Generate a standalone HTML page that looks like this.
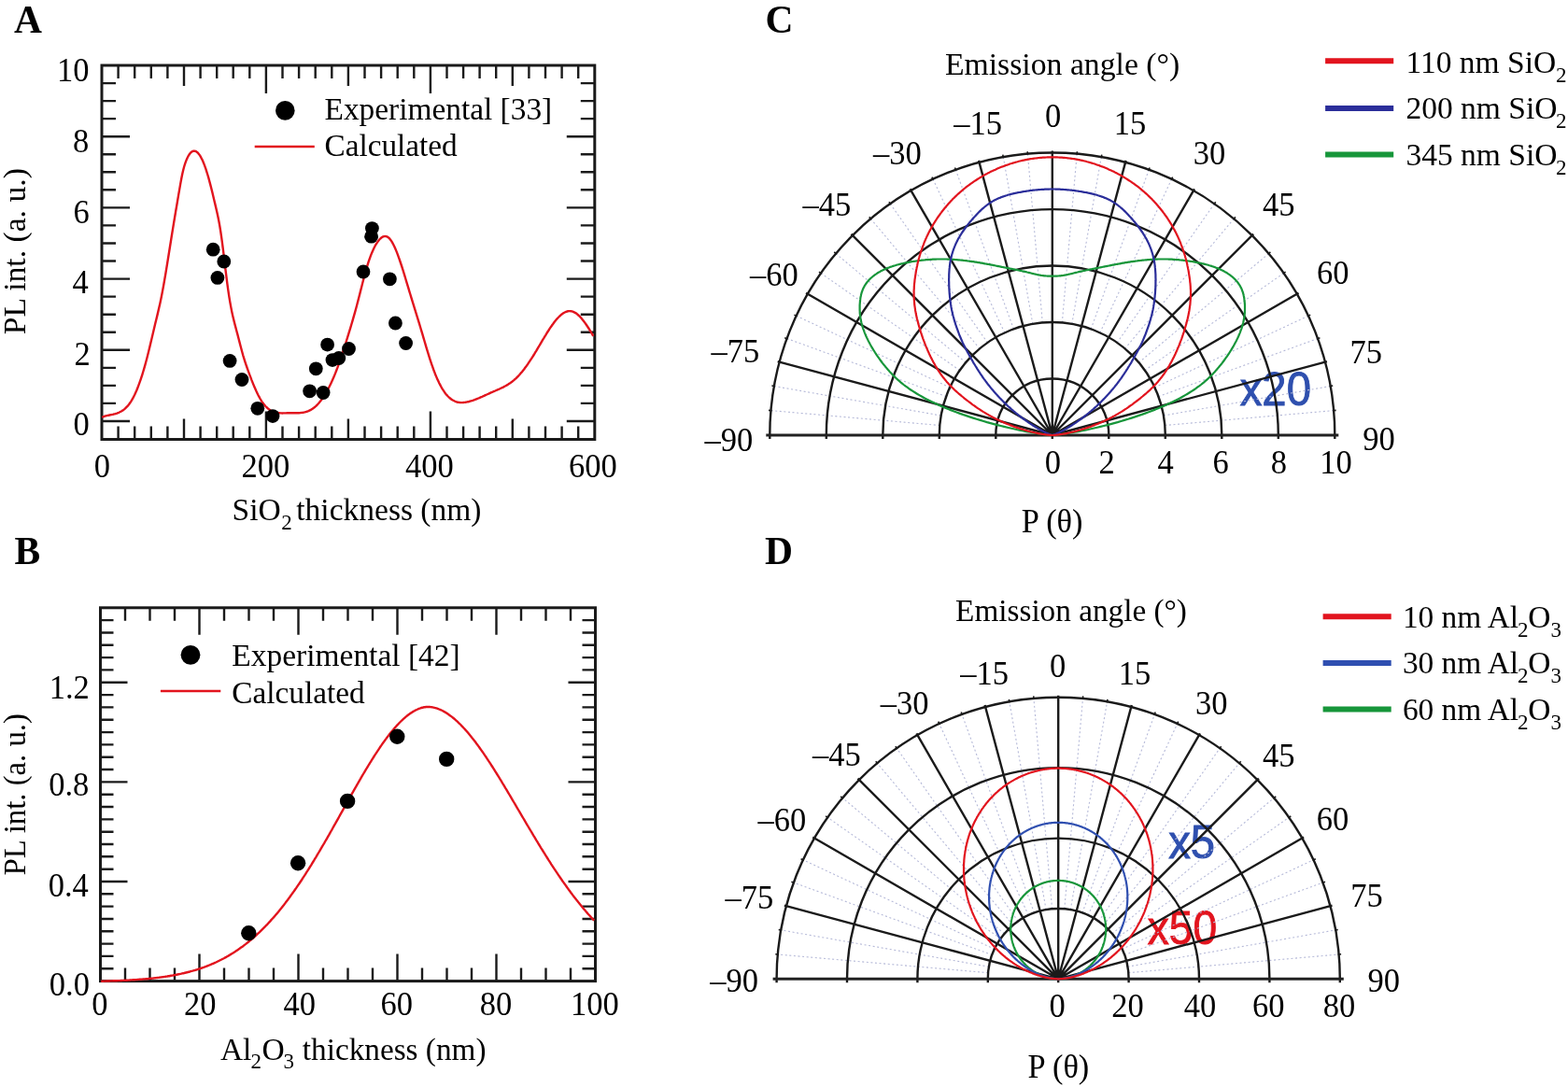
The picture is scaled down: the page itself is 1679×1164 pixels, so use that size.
<!DOCTYPE html>
<html><head><meta charset="utf-8"><title>Figure</title>
<style>html,body{margin:0;padding:0;background:#fff;}svg{display:block;}</style>
</head><body>
<svg width="1679" height="1164" viewBox="0 0 1679 1164"><rect x="109.0" y="70.0" width="527.8" height="400.5" fill="none" stroke="#1a1a1a" stroke-width="3.0"/>
<path d="M126.6,70.0v14.0M126.6,470.5v-14.0M144.2,70.0v14.0M144.2,470.5v-14.0M161.8,70.0v14.0M161.8,470.5v-14.0M179.4,70.0v14.0M179.4,470.5v-14.0M197.0,70.0v22.0M197.0,470.5v-22.0M214.6,70.0v14.0M214.6,470.5v-14.0M232.2,70.0v14.0M232.2,470.5v-14.0M249.7,70.0v14.0M249.7,470.5v-14.0M267.3,70.0v14.0M267.3,470.5v-14.0M284.9,70.0v30.0M284.9,470.5v-30.0M302.5,70.0v14.0M302.5,470.5v-14.0M320.1,70.0v14.0M320.1,470.5v-14.0M337.7,70.0v14.0M337.7,470.5v-14.0M355.3,70.0v14.0M355.3,470.5v-14.0M372.9,70.0v22.0M372.9,470.5v-22.0M390.5,70.0v14.0M390.5,470.5v-14.0M408.1,70.0v14.0M408.1,470.5v-14.0M425.7,70.0v14.0M425.7,470.5v-14.0M443.3,70.0v14.0M443.3,470.5v-14.0M460.9,70.0v30.0M460.9,470.5v-30.0M478.5,70.0v14.0M478.5,470.5v-14.0M496.1,70.0v14.0M496.1,470.5v-14.0M513.6,70.0v14.0M513.6,470.5v-14.0M531.2,70.0v14.0M531.2,470.5v-14.0M548.8,70.0v22.0M548.8,470.5v-22.0M566.4,70.0v14.0M566.4,470.5v-14.0M584.0,70.0v14.0M584.0,470.5v-14.0M601.6,70.0v14.0M601.6,470.5v-14.0M619.2,70.0v14.0M619.2,470.5v-14.0M109.0,451.0h30.0M636.8,451.0h-30.0M109.0,431.9h15.0M636.8,431.9h-15.0M109.0,412.9h15.0M636.8,412.9h-15.0M109.0,393.9h15.0M636.8,393.9h-15.0M109.0,374.8h30.0M636.8,374.8h-30.0M109.0,355.8h15.0M636.8,355.8h-15.0M109.0,336.7h15.0M636.8,336.7h-15.0M109.0,317.6h15.0M636.8,317.6h-15.0M109.0,298.6h30.0M636.8,298.6h-30.0M109.0,279.5h15.0M636.8,279.5h-15.0M109.0,260.5h15.0M636.8,260.5h-15.0M109.0,241.4h15.0M636.8,241.4h-15.0M109.0,222.4h30.0M636.8,222.4h-30.0M109.0,203.3h15.0M636.8,203.3h-15.0M109.0,184.3h15.0M636.8,184.3h-15.0M109.0,165.2h15.0M636.8,165.2h-15.0M109.0,146.2h30.0M636.8,146.2h-30.0M109.0,127.1h15.0M636.8,127.1h-15.0M109.0,108.1h15.0M636.8,108.1h-15.0M109.0,89.1h15.0M636.8,89.1h-15.0" stroke="#1a1a1a" stroke-width="2.4" fill="none"/>
<path d="M109.3,446.8 L110.3,446.4 L111.3,446.0 L112.3,445.7 L113.3,445.4 L114.3,445.1 L115.3,444.9 L116.3,444.7 L117.3,444.5 L118.3,444.3 L119.3,444.1 L120.3,443.9 L121.3,443.7 L122.3,443.4 L123.3,443.2 L124.3,442.9 L125.3,442.6 L126.3,442.2 L127.3,441.8 L128.3,441.3 L129.3,440.8 L130.3,440.3 L131.3,439.6 L132.3,438.9 L133.3,438.1 L134.3,437.2 L135.3,436.2 L136.3,435.2 L137.3,434.0 L138.3,432.7 L139.3,431.3 L140.3,429.8 L141.3,428.2 L142.3,426.4 L143.3,424.5 L144.3,422.5 L145.3,420.3 L146.3,418.0 L147.3,415.5 L148.3,412.9 L149.3,410.2 L150.3,407.4 L151.3,404.4 L152.3,401.3 L153.3,398.0 L154.3,394.6 L155.3,391.1 L156.3,387.5 L157.3,383.7 L158.3,379.8 L159.3,375.8 L160.3,371.6 L161.3,367.4 L162.3,363.2 L163.3,358.9 L164.3,354.7 L165.3,350.5 L166.3,346.3 L167.3,342.2 L168.3,338.1 L169.3,333.9 L170.3,329.6 L171.3,325.2 L172.3,320.4 L173.3,315.5 L174.3,310.2 L175.3,304.7 L176.3,299.0 L177.3,293.2 L178.3,287.1 L179.3,281.0 L180.3,274.8 L181.3,268.5 L182.3,262.2 L183.3,256.0 L184.3,249.7 L185.3,243.6 L186.3,237.5 L187.3,231.5 L188.3,225.5 L189.3,219.7 L190.3,213.8 L191.3,207.9 L192.3,202.1 L193.3,196.4 L194.3,191.0 L195.3,186.1 L196.3,181.8 L197.3,178.0 L198.3,174.8 L199.3,172.1 L200.3,169.7 L201.3,167.7 L202.3,166.0 L203.3,164.5 L204.3,163.4 L205.3,162.5 L206.3,162.0 L207.3,161.7 L208.3,161.7 L209.3,161.9 L210.3,162.4 L211.3,163.2 L212.3,164.2 L213.3,165.4 L214.3,166.9 L215.3,168.7 L216.3,170.6 L217.3,172.8 L218.3,175.2 L219.3,177.9 L220.3,180.7 L221.3,183.8 L222.3,187.0 L223.3,190.4 L224.3,194.1 L225.3,197.9 L226.3,201.8 L227.3,205.8 L228.3,210.0 L229.3,214.2 L230.3,218.4 L231.3,222.6 L232.3,226.9 L233.3,231.5 L234.3,236.5 L235.3,242.0 L236.3,248.2 L237.3,255.1 L238.3,262.7 L239.3,270.7 L240.3,278.9 L241.3,287.3 L242.3,295.4 L243.3,303.3 L244.3,310.7 L245.3,317.4 L246.3,323.4 L247.3,328.9 L248.3,333.9 L249.3,338.4 L250.3,342.6 L251.3,346.6 L252.3,350.4 L253.3,354.2 L254.3,357.9 L255.3,361.7 L256.3,365.6 L257.3,369.5 L258.3,373.3 L259.3,377.0 L260.3,380.6 L261.3,383.9 L262.3,387.1 L263.3,390.1 L264.3,393.0 L265.3,395.8 L266.3,398.6 L267.3,401.3 L268.3,403.9 L269.3,406.6 L270.3,409.1 L271.3,411.6 L272.3,414.0 L273.3,416.3 L274.3,418.6 L275.3,420.7 L276.3,422.8 L277.3,424.7 L278.3,426.5 L279.3,428.2 L280.3,429.8 L281.3,431.3 L282.3,432.6 L283.3,433.8 L284.3,435.0 L285.3,436.0 L286.3,436.9 L287.3,437.8 L288.3,438.5 L289.3,439.2 L290.3,439.8 L291.3,440.3 L292.3,440.8 L293.3,441.1 L294.3,441.5 L295.3,441.7 L296.3,442.0 L297.3,442.1 L298.3,442.3 L299.3,442.3 L300.3,442.4 L301.3,442.4 L302.3,442.5 L303.3,442.4 L304.3,442.4 L305.3,442.4 L306.3,442.4 L307.3,442.3 L308.3,442.3 L309.3,442.3 L310.3,442.2 L311.3,442.2 L312.3,442.3 L313.3,442.3 L314.3,442.3 L315.3,442.3 L316.3,442.3 L317.3,442.3 L318.3,442.3 L319.3,442.2 L320.3,442.2 L321.3,442.1 L322.3,442.0 L323.3,441.9 L324.3,441.8 L325.3,441.6 L326.3,441.4 L327.3,441.1 L328.3,440.8 L329.3,440.5 L330.3,440.1 L331.3,439.6 L332.3,439.1 L333.3,438.6 L334.3,437.9 L335.3,437.2 L336.3,436.5 L337.3,435.7 L338.3,434.8 L339.3,433.8 L340.3,432.8 L341.3,431.7 L342.3,430.5 L343.3,429.3 L344.3,428.0 L345.3,426.6 L346.3,425.1 L347.3,423.6 L348.3,422.0 L349.3,420.3 L350.3,418.5 L351.3,416.7 L352.3,414.8 L353.3,412.8 L354.3,410.7 L355.3,408.5 L356.3,406.3 L357.3,404.0 L358.3,401.6 L359.3,399.1 L360.3,396.5 L361.3,393.9 L362.3,391.1 L363.3,388.3 L364.3,385.5 L365.3,382.5 L366.3,379.5 L367.3,376.5 L368.3,373.4 L369.3,370.2 L370.3,367.0 L371.3,363.8 L372.3,360.6 L373.3,357.3 L374.3,354.1 L375.3,350.8 L376.3,347.5 L377.3,344.1 L378.3,340.7 L379.3,337.2 L380.3,333.7 L381.3,330.0 L382.3,326.3 L383.3,322.4 L384.3,318.5 L385.3,314.6 L386.3,310.6 L387.3,306.7 L388.3,302.8 L389.3,298.9 L390.3,295.2 L391.3,291.5 L392.3,288.0 L393.3,284.6 L394.3,281.4 L395.3,278.4 L396.3,275.6 L397.3,272.9 L398.3,270.5 L399.3,268.2 L400.3,266.0 L401.3,264.0 L402.3,262.2 L403.3,260.6 L404.3,259.1 L405.3,257.7 L406.3,256.5 L407.3,255.5 L408.3,254.6 L409.3,253.9 L410.3,253.4 L411.3,253.1 L412.3,253.0 L413.3,253.1 L414.3,253.4 L415.3,253.9 L416.3,254.7 L417.3,255.7 L418.3,257.0 L419.3,258.4 L420.3,260.1 L421.3,262.0 L422.3,264.0 L423.3,266.2 L424.3,268.6 L425.3,271.1 L426.3,273.8 L427.3,276.6 L428.3,279.5 L429.3,282.5 L430.3,285.5 L431.3,288.7 L432.3,291.9 L433.3,295.2 L434.3,298.5 L435.3,301.8 L436.3,305.1 L437.3,308.4 L438.3,311.8 L439.3,315.0 L440.3,318.3 L441.3,321.6 L442.3,324.9 L443.3,328.1 L444.3,331.4 L445.3,334.6 L446.3,337.9 L447.3,341.1 L448.3,344.4 L449.3,347.7 L450.3,351.0 L451.3,354.4 L452.3,357.7 L453.3,361.1 L454.3,364.5 L455.3,367.9 L456.3,371.3 L457.3,374.6 L458.3,377.9 L459.3,381.1 L460.3,384.3 L461.3,387.4 L462.3,390.3 L463.3,393.2 L464.3,396.0 L465.3,398.6 L466.3,401.2 L467.3,403.6 L468.3,405.9 L469.3,408.1 L470.3,410.2 L471.3,412.1 L472.3,414.0 L473.3,415.8 L474.3,417.4 L475.3,418.9 L476.3,420.4 L477.3,421.7 L478.3,422.9 L479.3,424.0 L480.3,425.0 L481.3,426.0 L482.3,426.8 L483.3,427.6 L484.3,428.2 L485.3,428.8 L486.3,429.3 L487.3,429.8 L488.3,430.2 L489.3,430.5 L490.3,430.7 L491.3,430.9 L492.3,431.0 L493.3,431.1 L494.3,431.1 L495.3,431.1 L496.3,431.0 L497.3,430.9 L498.3,430.8 L499.3,430.6 L500.3,430.4 L501.3,430.2 L502.3,430.0 L503.3,429.7 L504.3,429.4 L505.3,429.1 L506.3,428.8 L507.3,428.4 L508.3,428.1 L509.3,427.7 L510.3,427.3 L511.3,426.9 L512.3,426.5 L513.3,426.1 L514.3,425.6 L515.3,425.2 L516.3,424.8 L517.3,424.3 L518.3,423.9 L519.3,423.4 L520.3,422.9 L521.3,422.5 L522.3,422.0 L523.3,421.6 L524.3,421.1 L525.3,420.6 L526.3,420.2 L527.3,419.8 L528.3,419.3 L529.3,418.9 L530.3,418.5 L531.3,418.0 L532.3,417.6 L533.3,417.2 L534.3,416.7 L535.3,416.3 L536.3,415.8 L537.3,415.3 L538.3,414.9 L539.3,414.4 L540.3,413.8 L541.3,413.3 L542.3,412.7 L543.3,412.1 L544.3,411.5 L545.3,410.8 L546.3,410.2 L547.3,409.4 L548.3,408.7 L549.3,407.9 L550.3,407.1 L551.3,406.2 L552.3,405.3 L553.3,404.3 L554.3,403.3 L555.3,402.3 L556.3,401.2 L557.3,400.0 L558.3,398.9 L559.3,397.7 L560.3,396.4 L561.3,395.2 L562.3,393.8 L563.3,392.5 L564.3,391.1 L565.3,389.7 L566.3,388.2 L567.3,386.7 L568.3,385.2 L569.3,383.7 L570.3,382.1 L571.3,380.5 L572.3,378.9 L573.3,377.2 L574.3,375.6 L575.3,373.9 L576.3,372.2 L577.3,370.5 L578.3,368.8 L579.3,367.1 L580.3,365.4 L581.3,363.7 L582.3,362.1 L583.3,360.4 L584.3,358.8 L585.3,357.1 L586.3,355.5 L587.3,354.0 L588.3,352.4 L589.3,350.9 L590.3,349.5 L591.3,348.0 L592.3,346.7 L593.3,345.3 L594.3,344.0 L595.3,342.8 L596.3,341.6 L597.3,340.5 L598.3,339.5 L599.3,338.5 L600.3,337.6 L601.3,336.7 L602.3,336.0 L603.3,335.3 L604.3,334.7 L605.3,334.2 L606.3,333.8 L607.3,333.5 L608.3,333.2 L609.3,333.1 L610.3,333.1 L611.3,333.2 L612.3,333.4 L613.3,333.7 L614.3,334.1 L615.3,334.6 L616.3,335.1 L617.3,335.8 L618.3,336.6 L619.3,337.5 L620.3,338.4 L621.3,339.4 L622.3,340.5 L623.3,341.7 L624.3,342.9 L625.3,344.2 L626.3,345.6 L627.3,347.0 L628.3,348.5 L629.3,350.0 L630.3,351.5 L631.3,353.1 L632.3,354.8 L633.3,356.5 L634.3,358.2 L635.3,359.9" stroke="#e2141e" stroke-width="2.4" fill="none" stroke-linejoin="round"/>
<circle cx="228.2" cy="267.2" r="7.4" fill="#000"/>
<circle cx="239.8" cy="280" r="7.4" fill="#000"/>
<circle cx="232.9" cy="297.4" r="7.4" fill="#000"/>
<circle cx="246.1" cy="386.4" r="7.4" fill="#000"/>
<circle cx="259" cy="406.5" r="7.4" fill="#000"/>
<circle cx="275.8" cy="437.3" r="7.4" fill="#000"/>
<circle cx="292" cy="445.6" r="7.4" fill="#000"/>
<circle cx="331.6" cy="418.8" r="7.4" fill="#000"/>
<circle cx="346.1" cy="420.5" r="7.4" fill="#000"/>
<circle cx="338.3" cy="394.8" r="7.4" fill="#000"/>
<circle cx="350.6" cy="369.1" r="7.4" fill="#000"/>
<circle cx="356" cy="385.6" r="7.4" fill="#000"/>
<circle cx="362.8" cy="383.5" r="7.4" fill="#000"/>
<circle cx="373.5" cy="373.5" r="7.4" fill="#000"/>
<circle cx="389" cy="291" r="7.4" fill="#000"/>
<circle cx="397.6" cy="253.2" r="7.4" fill="#000"/>
<circle cx="398.4" cy="244.6" r="7.4" fill="#000"/>
<circle cx="417.4" cy="298.8" r="7.4" fill="#000"/>
<circle cx="423.4" cy="346" r="7.4" fill="#000"/>
<circle cx="434.6" cy="367.5" r="7.4" fill="#000"/>
<circle cx="305.3" cy="118.4" r="10.3" fill="#000"/>
<path d="M272.7,157H336.8" stroke="#e2141e" stroke-width="2.6"/>
<rect x="107.5" y="650.8" width="530.0" height="399.8" fill="none" stroke="#1a1a1a" stroke-width="3.0"/>
<path d="M134.0,650.8v14.0M134.0,1050.6v-14.0M160.5,650.8v14.0M160.5,1050.6v-14.0M187.0,650.8v14.0M187.0,1050.6v-14.0M213.5,650.8v29.0M213.5,1050.6v-29.0M240.0,650.8v14.0M240.0,1050.6v-14.0M266.5,650.8v14.0M266.5,1050.6v-14.0M293.0,650.8v14.0M293.0,1050.6v-14.0M319.5,650.8v29.0M319.5,1050.6v-29.0M346.0,650.8v14.0M346.0,1050.6v-14.0M372.5,650.8v14.0M372.5,1050.6v-14.0M399.0,650.8v14.0M399.0,1050.6v-14.0M425.5,650.8v29.0M425.5,1050.6v-29.0M452.0,650.8v14.0M452.0,1050.6v-14.0M478.5,650.8v14.0M478.5,1050.6v-14.0M505.0,650.8v14.0M505.0,1050.6v-14.0M531.5,650.8v29.0M531.5,1050.6v-29.0M558.0,650.8v14.0M558.0,1050.6v-14.0M584.5,650.8v14.0M584.5,1050.6v-14.0M611.0,650.8v14.0M611.0,1050.6v-14.0M107.5,1037.3h14.0M637.5,1037.3h-14.0M107.5,1023.9h14.0M637.5,1023.9h-14.0M107.5,1010.6h14.0M637.5,1010.6h-14.0M107.5,997.3h14.0M637.5,997.3h-14.0M107.5,984.0h14.0M637.5,984.0h-14.0M107.5,970.6h14.0M637.5,970.6h-14.0M107.5,957.3h14.0M637.5,957.3h-14.0M107.5,944.0h29.0M637.5,944.0h-29.0M107.5,930.7h14.0M637.5,930.7h-14.0M107.5,917.3h14.0M637.5,917.3h-14.0M107.5,904.0h14.0M637.5,904.0h-14.0M107.5,890.7h14.0M637.5,890.7h-14.0M107.5,877.4h14.0M637.5,877.4h-14.0M107.5,864.0h14.0M637.5,864.0h-14.0M107.5,850.7h14.0M637.5,850.7h-14.0M107.5,837.4h29.0M637.5,837.4h-29.0M107.5,824.0h14.0M637.5,824.0h-14.0M107.5,810.7h14.0M637.5,810.7h-14.0M107.5,797.4h14.0M637.5,797.4h-14.0M107.5,784.1h14.0M637.5,784.1h-14.0M107.5,770.7h14.0M637.5,770.7h-14.0M107.5,757.4h14.0M637.5,757.4h-14.0M107.5,744.1h14.0M637.5,744.1h-14.0M107.5,730.8h29.0M637.5,730.8h-29.0M107.5,717.4h14.0M637.5,717.4h-14.0M107.5,704.1h14.0M637.5,704.1h-14.0M107.5,690.8h14.0M637.5,690.8h-14.0M107.5,677.5h14.0M637.5,677.5h-14.0M107.5,664.1h14.0M637.5,664.1h-14.0" stroke="#1a1a1a" stroke-width="2.4" fill="none"/>
<path d="M108.2,1050.7 L109.2,1050.7 L110.2,1050.7 L111.2,1050.6 L112.2,1050.6 L113.2,1050.6 L114.2,1050.5 L115.2,1050.5 L116.2,1050.5 L117.2,1050.5 L118.2,1050.4 L119.2,1050.4 L120.2,1050.4 L121.2,1050.3 L122.2,1050.3 L123.2,1050.2 L124.2,1050.2 L125.2,1050.2 L126.2,1050.1 L127.2,1050.1 L128.2,1050.1 L129.2,1050.0 L130.2,1050.0 L131.2,1049.9 L132.2,1049.9 L133.2,1049.8 L134.2,1049.8 L135.2,1049.7 L136.2,1049.7 L137.2,1049.6 L138.2,1049.6 L139.2,1049.5 L140.2,1049.4 L141.2,1049.4 L142.2,1049.3 L143.2,1049.3 L144.2,1049.2 L145.2,1049.1 L146.2,1049.1 L147.2,1049.0 L148.2,1048.9 L149.2,1048.8 L150.2,1048.8 L151.2,1048.7 L152.2,1048.6 L153.2,1048.5 L154.2,1048.4 L155.2,1048.4 L156.2,1048.3 L157.2,1048.2 L158.2,1048.1 L159.2,1048.0 L160.2,1047.9 L161.2,1047.8 L162.2,1047.7 L163.2,1047.6 L164.2,1047.5 L165.2,1047.4 L166.2,1047.2 L167.2,1047.1 L168.2,1047.0 L169.2,1046.9 L170.2,1046.8 L171.2,1046.6 L172.2,1046.5 L173.2,1046.4 L174.2,1046.2 L175.2,1046.1 L176.2,1045.9 L177.2,1045.8 L178.2,1045.6 L179.2,1045.5 L180.2,1045.3 L181.2,1045.2 L182.2,1045.0 L183.2,1044.8 L184.2,1044.6 L185.2,1044.5 L186.2,1044.3 L187.2,1044.1 L188.2,1043.9 L189.2,1043.7 L190.2,1043.5 L191.2,1043.3 L192.2,1043.1 L193.2,1042.9 L194.2,1042.7 L195.2,1042.4 L196.2,1042.2 L197.2,1042.0 L198.2,1041.7 L199.2,1041.5 L200.2,1041.3 L201.2,1041.0 L202.2,1040.7 L203.2,1040.5 L204.2,1040.2 L205.2,1039.9 L206.2,1039.7 L207.2,1039.4 L208.2,1039.1 L209.2,1038.8 L210.2,1038.5 L211.2,1038.2 L212.2,1037.8 L213.2,1037.5 L214.2,1037.2 L215.2,1036.8 L216.2,1036.5 L217.2,1036.1 L218.2,1035.8 L219.2,1035.4 L220.2,1035.1 L221.2,1034.7 L222.2,1034.3 L223.2,1033.9 L224.2,1033.5 L225.2,1033.1 L226.2,1032.7 L227.2,1032.2 L228.2,1031.8 L229.2,1031.4 L230.2,1030.9 L231.2,1030.5 L232.2,1030.0 L233.2,1029.5 L234.2,1029.0 L235.2,1028.5 L236.2,1028.0 L237.2,1027.5 L238.2,1027.0 L239.2,1026.5 L240.2,1026.0 L241.2,1025.4 L242.2,1024.9 L243.2,1024.3 L244.2,1023.7 L245.2,1023.1 L246.2,1022.5 L247.2,1021.9 L248.2,1021.3 L249.2,1020.7 L250.2,1020.1 L251.2,1019.4 L252.2,1018.8 L253.2,1018.1 L254.2,1017.4 L255.2,1016.7 L256.2,1016.1 L257.2,1015.3 L258.2,1014.6 L259.2,1013.9 L260.2,1013.2 L261.2,1012.4 L262.2,1011.6 L263.2,1010.9 L264.2,1010.1 L265.2,1009.3 L266.2,1008.5 L267.2,1007.7 L268.2,1006.8 L269.2,1006.0 L270.2,1005.1 L271.2,1004.3 L272.2,1003.4 L273.2,1002.5 L274.2,1001.6 L275.2,1000.7 L276.2,999.7 L277.2,998.8 L278.2,997.9 L279.2,996.9 L280.2,995.9 L281.2,994.9 L282.2,993.9 L283.2,992.9 L284.2,991.9 L285.2,990.8 L286.2,989.8 L287.2,988.7 L288.2,987.6 L289.2,986.6 L290.2,985.4 L291.2,984.3 L292.2,983.2 L293.2,982.1 L294.2,980.9 L295.2,979.7 L296.2,978.6 L297.2,977.4 L298.2,976.2 L299.2,974.9 L300.2,973.7 L301.2,972.5 L302.2,971.2 L303.2,969.9 L304.2,968.7 L305.2,967.4 L306.2,966.0 L307.2,964.7 L308.2,963.4 L309.2,962.1 L310.2,960.7 L311.2,959.3 L312.2,957.9 L313.2,956.5 L314.2,955.1 L315.2,953.7 L316.2,952.3 L317.2,950.9 L318.2,949.4 L319.2,947.9 L320.2,946.5 L321.2,945.0 L322.2,943.5 L323.2,942.0 L324.2,940.4 L325.2,938.9 L326.2,937.4 L327.2,935.8 L328.2,934.2 L329.2,932.7 L330.2,931.1 L331.2,929.5 L332.2,927.9 L333.2,926.3 L334.2,924.6 L335.2,923.0 L336.2,921.4 L337.2,919.7 L338.2,918.1 L339.2,916.4 L340.2,914.7 L341.2,913.0 L342.2,911.3 L343.2,909.6 L344.2,907.9 L345.2,906.2 L346.2,904.5 L347.2,902.8 L348.2,901.0 L349.2,899.3 L350.2,897.6 L351.2,895.8 L352.2,894.1 L353.2,892.3 L354.2,890.5 L355.2,888.8 L356.2,887.0 L357.2,885.2 L358.2,883.4 L359.2,881.7 L360.2,879.9 L361.2,878.1 L362.2,876.3 L363.2,874.5 L364.2,872.7 L365.2,870.9 L366.2,869.1 L367.2,867.3 L368.2,865.5 L369.2,863.7 L370.2,861.9 L371.2,860.1 L372.2,858.4 L373.2,856.6 L374.2,854.8 L375.2,853.0 L376.2,851.2 L377.2,849.4 L378.2,847.7 L379.2,845.9 L380.2,844.1 L381.2,842.4 L382.2,840.6 L383.2,838.9 L384.2,837.1 L385.2,835.4 L386.2,833.7 L387.2,831.9 L388.2,830.2 L389.2,828.5 L390.2,826.8 L391.2,825.1 L392.2,823.5 L393.2,821.8 L394.2,820.2 L395.2,818.5 L396.2,816.9 L397.2,815.3 L398.2,813.7 L399.2,812.1 L400.2,810.5 L401.2,808.9 L402.2,807.4 L403.2,805.8 L404.2,804.3 L405.2,802.8 L406.2,801.3 L407.2,799.8 L408.2,798.4 L409.2,796.9 L410.2,795.5 L411.2,794.1 L412.2,792.7 L413.2,791.4 L414.2,790.0 L415.2,788.7 L416.2,787.4 L417.2,786.1 L418.2,784.8 L419.2,783.6 L420.2,782.4 L421.2,781.2 L422.2,780.0 L423.2,778.9 L424.2,777.7 L425.2,776.6 L426.2,775.6 L427.2,774.5 L428.2,773.5 L429.2,772.5 L430.2,771.5 L431.2,770.6 L432.2,769.7 L433.2,768.8 L434.2,767.9 L435.2,767.1 L436.2,766.3 L437.2,765.5 L438.2,764.8 L439.2,764.0 L440.2,763.4 L441.2,762.7 L442.2,762.1 L443.2,761.5 L444.2,761.0 L445.2,760.4 L446.2,760.0 L447.2,759.5 L448.2,759.1 L449.2,758.7 L450.2,758.4 L451.2,758.0 L452.2,757.8 L453.2,757.5 L454.2,757.3 L455.2,757.2 L456.2,757.0 L457.2,757.0 L458.2,756.9 L459.2,757.0 L460.2,757.0 L461.2,757.1 L462.2,757.2 L463.2,757.4 L464.2,757.6 L465.2,757.8 L466.2,758.1 L467.2,758.4 L468.2,758.7 L469.2,759.1 L470.2,759.5 L471.2,759.9 L472.2,760.3 L473.2,760.8 L474.2,761.3 L475.2,761.9 L476.2,762.4 L477.2,763.0 L478.2,763.6 L479.2,764.3 L480.2,765.0 L481.2,765.7 L482.2,766.4 L483.2,767.1 L484.2,767.9 L485.2,768.7 L486.2,769.5 L487.2,770.4 L488.2,771.3 L489.2,772.2 L490.2,773.1 L491.2,774.1 L492.2,775.0 L493.2,776.0 L494.2,777.1 L495.2,778.1 L496.2,779.2 L497.2,780.3 L498.2,781.4 L499.2,782.5 L500.2,783.6 L501.2,784.8 L502.2,786.0 L503.2,787.2 L504.2,788.4 L505.2,789.7 L506.2,790.9 L507.2,792.2 L508.2,793.5 L509.2,794.8 L510.2,796.2 L511.2,797.5 L512.2,798.9 L513.2,800.3 L514.2,801.7 L515.2,803.1 L516.2,804.5 L517.2,805.9 L518.2,807.4 L519.2,808.9 L520.2,810.3 L521.2,811.8 L522.2,813.3 L523.2,814.9 L524.2,816.4 L525.2,817.9 L526.2,819.5 L527.2,821.0 L528.2,822.6 L529.2,824.2 L530.2,825.8 L531.2,827.4 L532.2,829.0 L533.2,830.6 L534.2,832.2 L535.2,833.8 L536.2,835.5 L537.2,837.1 L538.2,838.8 L539.2,840.4 L540.2,842.1 L541.2,843.8 L542.2,845.4 L543.2,847.1 L544.2,848.8 L545.2,850.5 L546.2,852.2 L547.2,853.9 L548.2,855.6 L549.2,857.3 L550.2,859.0 L551.2,860.7 L552.2,862.4 L553.2,864.1 L554.2,865.8 L555.2,867.5 L556.2,869.2 L557.2,870.9 L558.2,872.6 L559.2,874.3 L560.2,876.0 L561.2,877.7 L562.2,879.4 L563.2,881.1 L564.2,882.8 L565.2,884.5 L566.2,886.2 L567.2,887.8 L568.2,889.5 L569.2,891.2 L570.2,892.9 L571.2,894.6 L572.2,896.2 L573.2,897.9 L574.2,899.6 L575.2,901.2 L576.2,902.9 L577.2,904.5 L578.2,906.1 L579.2,907.8 L580.2,909.4 L581.2,911.0 L582.2,912.6 L583.2,914.2 L584.2,915.8 L585.2,917.4 L586.2,919.0 L587.2,920.6 L588.2,922.1 L589.2,923.7 L590.2,925.3 L591.2,926.8 L592.2,928.3 L593.2,929.9 L594.2,931.4 L595.2,932.9 L596.2,934.4 L597.2,935.9 L598.2,937.4 L599.2,938.8 L600.2,940.3 L601.2,941.7 L602.2,943.2 L603.2,944.6 L604.2,946.0 L605.2,947.4 L606.2,948.8 L607.2,950.2 L608.2,951.6 L609.2,953.0 L610.2,954.3 L611.2,955.7 L612.2,957.0 L613.2,958.4 L614.2,959.7 L615.2,961.0 L616.2,962.3 L617.2,963.6 L618.2,964.8 L619.2,966.1 L620.2,967.3 L621.2,968.6 L622.2,969.8 L623.2,971.0 L624.2,972.2 L625.2,973.4 L626.2,974.6 L627.2,975.8 L628.2,976.9 L629.2,978.1 L630.2,979.2 L631.2,980.3 L632.2,981.4 L633.2,982.5 L634.2,983.6 L635.2,984.7 L636.2,985.7" stroke="#e2141e" stroke-width="2.4" fill="none"/>
<circle cx="266.3" cy="999.3" r="8.2" fill="#000"/>
<circle cx="319.1" cy="924.2" r="8.2" fill="#000"/>
<circle cx="372.1" cy="857.9" r="8.2" fill="#000"/>
<circle cx="425.3" cy="788.7" r="8.2" fill="#000"/>
<circle cx="478.2" cy="812.9" r="8.2" fill="#000"/>
<circle cx="204" cy="701.3" r="10.4" fill="#000"/>
<path d="M171.9,740H236.3" stroke="#e2141e" stroke-width="2.6"/>
<text transform="translate(1228.7,1010.5) scale(0.923,1.0)" font-size="50.00" font-family="'Liberation Sans',Arial,sans-serif" fill="#e2141e" stroke="#e2141e" stroke-width="0.9">x50</text>
<text transform="translate(1251.2,919.0) scale(0.944,1.0)" font-size="50.00" font-family="'Liberation Sans',Arial,sans-serif" fill="#2e4fae" stroke="#2e4fae" stroke-width="0.9">x5</text>
<text transform="translate(1327.7,434.4) scale(0.946,1.0)" font-size="50.00" font-family="'Liberation Sans',Arial,sans-serif" fill="#2e4fae" stroke="#2e4fae" stroke-width="0.9">x20</text>
<path d="M1006.3,455.5L825.5,439.6M1007.6,445.0L828.9,413.5M1013.1,424.6L842.5,362.5M1017.1,414.9L852.6,338.2M1027.7,396.6L879.0,292.5M1034.1,388.2L895.1,271.6M1049.0,373.3L932.4,234.3M1057.4,366.9L953.3,218.2M1075.7,356.3L999.0,191.8M1085.4,352.3L1023.3,181.7M1105.8,346.8L1074.3,168.1M1116.3,345.5L1100.4,164.7M1137.3,345.5L1153.2,164.7M1147.8,346.8L1179.3,168.1M1168.2,352.3L1230.3,181.7M1177.9,356.3L1254.6,191.8M1196.2,366.9L1300.3,218.2M1204.6,373.3L1321.2,234.3M1219.5,388.2L1358.5,271.6M1225.9,396.6L1374.6,292.5M1236.5,414.9L1401.0,338.2M1240.5,424.6L1411.1,362.5M1246.0,445.0L1424.7,413.5M1247.3,455.5L1428.1,439.6" stroke="#b5b9d8" stroke-width="1.1" stroke-dasharray="2 2.6" fill="none"/>
<path d="M826.4,439.7L823.0,439.4M829.9,413.6L826.4,413.0M843.5,362.9L840.2,361.7M853.5,338.6L850.4,337.1M879.8,293.1L877.0,291.1M895.8,272.2L893.2,269.9M933.0,235.0L930.7,232.4M953.9,219.0L951.9,216.2M999.4,192.7L997.9,189.6M1023.7,182.7L1022.5,179.4M1074.4,169.1L1073.8,165.6M1100.5,165.6L1100.2,162.2M1153.1,165.6L1153.4,162.2M1179.2,169.1L1179.8,165.6M1229.9,182.7L1231.1,179.4M1254.2,192.7L1255.7,189.6M1299.7,219.0L1301.7,216.2M1320.6,235.0L1322.9,232.4M1357.8,272.2L1360.4,269.9M1373.8,293.1L1376.6,291.1M1400.1,338.6L1403.2,337.1M1410.1,362.9L1413.4,361.7M1423.7,413.6L1427.2,413.0M1427.2,439.7L1430.6,439.4" stroke="#1a1a1a" stroke-width="1.6" fill="none"/>
<path d="M1066.3,470.0L1066.3,466.0A60.5,60.5 0 0 1 1187.3,466.0L1187.3,470.0M1005.8,470.0L1005.8,466.0A121.0,121.0 0 0 1 1247.8,466.0L1247.8,470.0M945.3,470.0L945.3,466.0A181.5,181.5 0 0 1 1308.3,466.0L1308.3,470.0M884.8,470.0L884.8,466.0A242.0,242.0 0 0 1 1368.8,466.0L1368.8,470.0M824.3,470.0L824.3,466.0A302.5,302.5 0 0 1 1429.3,466.0L1429.3,470.0" stroke="#1a1a1a" stroke-width="2.4" fill="none"/>
<path d="M1126.8,466.0L832.7,387.2M1126.8,466.0L863.1,313.8M1126.8,466.0L911.5,250.7M1126.8,466.0L974.5,202.3M1126.8,466.0L1048.0,171.9M1126.8,466.0L1126.8,161.5M1126.8,466.0L1205.6,171.9M1126.8,466.0L1279.0,202.3M1126.8,466.0L1342.1,250.7M1126.8,466.0L1390.5,313.8M1126.8,466.0L1420.9,387.2M1126.8,470.0V466.0" stroke="#1a1a1a" stroke-width="2.4" fill="none"/>
<path d="M820.3,466.0H1433.3" stroke="#222" stroke-width="3" fill="none"/>
<path d="M1126.8,466.0 L1126.8,466.0 L1126.8,466.0 L1126.8,466.0 L1126.8,466.0 L1126.8,466.0 L1126.8,466.0 L1126.8,466.0 L1126.8,466.0 L1126.8,466.0 L1126.7,466.0 L1126.4,466.0 L1126.1,466.0 L1125.7,465.9 L1125.3,465.9 L1124.7,465.9 L1124.2,465.8 L1123.5,465.8 L1122.7,465.7 L1121.9,465.6 L1121.0,465.5 L1119.9,465.4 L1118.8,465.2 L1117.6,465.1 L1116.2,464.9 L1114.7,464.7 L1113.1,464.4 L1111.3,464.2 L1109.5,463.9 L1107.4,463.5 L1105.2,463.2 L1102.9,462.7 L1100.4,462.3 L1097.7,461.8 L1094.8,461.2 L1091.8,460.6 L1088.7,460.0 L1085.5,459.3 L1082.1,458.5 L1078.7,457.7 L1075.2,456.9 L1071.6,456.0 L1068.0,455.1 L1064.3,454.1 L1060.6,453.1 L1056.9,452.1 L1053.2,451.0 L1049.5,449.9 L1045.7,448.8 L1042.0,447.6 L1038.3,446.4 L1034.6,445.1 L1030.9,443.9 L1027.3,442.6 L1023.7,441.3 L1020.2,439.9 L1016.7,438.6 L1013.4,437.2 L1010.0,435.8 L1006.8,434.4 L1003.7,433.0 L1000.6,431.6 L997.7,430.2 L994.8,428.8 L992.1,427.4 L989.4,426.0 L986.8,424.5 L984.4,423.1 L982.0,421.7 L979.7,420.3 L977.5,418.9 L975.3,417.5 L973.3,416.1 L971.4,414.7 L969.5,413.4 L967.7,412.0 L966.0,410.6 L964.4,409.3 L962.8,407.9 L961.3,406.6 L959.8,405.2 L958.4,403.9 L957.0,402.5 L955.7,401.2 L954.4,399.8 L953.1,398.5 L951.9,397.1 L950.7,395.8 L949.6,394.4 L948.4,393.0 L947.3,391.6 L946.1,390.2 L945.0,388.9 L944.0,387.5 L942.9,386.0 L941.9,384.6 L940.9,383.2 L939.9,381.8 L938.9,380.4 L937.9,378.9 L937.0,377.5 L936.1,376.0 L935.2,374.6 L934.3,373.1 L933.4,371.7 L932.6,370.2 L931.8,368.8 L931.0,367.3 L930.2,365.8 L929.5,364.4 L928.8,362.9 L928.1,361.5 L927.4,360.0 L926.8,358.5 L926.2,357.1 L925.6,355.6 L925.1,354.2 L924.5,352.7 L924.0,351.3 L923.6,349.9 L923.2,348.4 L922.8,347.0 L922.4,345.6 L922.1,344.2 L921.8,342.8 L921.6,341.5 L921.3,340.1 L921.1,338.7 L921.0,337.4 L920.8,336.1 L920.7,334.7 L920.7,333.4 L920.6,332.1 L920.6,330.8 L920.6,329.5 L920.6,328.2 L920.6,326.9 L920.7,325.7 L920.8,324.4 L920.9,323.2 L921.0,321.9 L921.2,320.7 L921.3,319.4 L921.5,318.2 L921.8,317.0 L922.0,315.8 L922.3,314.7 L922.6,313.5 L923.0,312.4 L923.4,311.3 L923.8,310.2 L924.2,309.2 L924.7,308.1 L925.3,307.1 L925.8,306.1 L926.4,305.2 L927.0,304.2 L927.7,303.3 L928.3,302.4 L929.0,301.5 L929.8,300.7 L930.5,299.8 L931.3,299.0 L932.1,298.2 L932.9,297.5 L933.8,296.7 L934.6,296.0 L935.5,295.3 L936.4,294.6 L937.4,293.9 L938.3,293.3 L939.3,292.6 L940.2,292.0 L941.2,291.4 L942.3,290.9 L943.3,290.3 L944.3,289.8 L945.4,289.3 L946.4,288.8 L947.5,288.3 L948.6,287.8 L949.7,287.3 L950.8,286.9 L951.9,286.5 L953.0,286.0 L954.2,285.6 L955.3,285.3 L956.4,284.9 L957.6,284.5 L958.7,284.2 L959.9,283.8 L961.0,283.5 L962.2,283.2 L963.4,282.9 L964.6,282.6 L965.7,282.3 L966.9,282.1 L968.1,281.8 L969.3,281.5 L970.4,281.3 L971.6,281.1 L972.8,280.9 L974.0,280.6 L975.2,280.4 L976.4,280.2 L977.5,280.0 L978.7,279.8 L979.9,279.7 L981.1,279.5 L982.3,279.3 L983.4,279.2 L984.6,279.0 L985.8,278.9 L987.0,278.7 L988.1,278.6 L989.3,278.5 L990.5,278.4 L991.6,278.2 L992.8,278.1 L994.0,278.1 L995.1,278.0 L996.3,277.9 L997.5,277.8 L998.6,277.7 L999.8,277.7 L1000.9,277.6 L1002.1,277.6 L1003.2,277.5 L1004.4,277.5 L1005.5,277.5 L1006.7,277.5 L1007.8,277.5 L1009.0,277.5 L1010.1,277.5 L1011.3,277.5 L1012.4,277.5 L1013.6,277.5 L1014.7,277.6 L1015.8,277.6 L1017.0,277.7 L1018.1,277.7 L1019.2,277.8 L1020.3,277.8 L1021.5,277.9 L1022.6,278.0 L1023.7,278.1 L1024.8,278.2 L1025.9,278.3 L1027.0,278.4 L1028.1,278.5 L1029.2,278.6 L1030.3,278.7 L1031.4,278.8 L1032.5,279.0 L1033.6,279.1 L1034.7,279.2 L1035.8,279.4 L1036.8,279.5 L1037.9,279.6 L1039.0,279.8 L1040.0,279.9 L1041.1,280.1 L1042.1,280.2 L1043.2,280.4 L1044.2,280.6 L1045.3,280.7 L1046.3,280.9 L1047.3,281.1 L1048.4,281.2 L1049.4,281.4 L1050.4,281.6 L1051.4,281.7 L1052.4,281.9 L1053.4,282.1 L1054.4,282.3 L1055.4,282.5 L1056.4,282.6 L1057.4,282.8 L1058.4,283.0 L1059.4,283.2 L1060.3,283.4 L1061.3,283.6 L1062.3,283.7 L1063.2,283.9 L1064.2,284.1 L1065.1,284.3 L1066.1,284.5 L1067.0,284.7 L1067.9,284.9 L1068.9,285.1 L1069.8,285.2 L1070.7,285.4 L1071.6,285.6 L1072.6,285.8 L1073.5,286.0 L1074.4,286.2 L1075.3,286.3 L1076.2,286.5 L1077.1,286.7 L1078.0,286.9 L1078.9,287.1 L1079.7,287.2 L1080.6,287.4 L1081.5,287.6 L1082.4,287.8 L1083.2,287.9 L1084.1,288.1 L1084.9,288.3 L1085.8,288.4 L1086.7,288.6 L1087.5,288.8 L1088.4,289.0 L1089.2,289.1 L1090.0,289.3 L1090.9,289.5 L1091.7,289.7 L1092.6,289.8 L1093.4,290.0 L1094.2,290.2 L1095.0,290.4 L1095.9,290.6 L1096.7,290.7 L1097.5,290.9 L1098.3,291.1 L1099.1,291.3 L1099.9,291.5 L1100.8,291.7 L1101.6,291.9 L1102.4,292.1 L1103.2,292.3 L1104.0,292.5 L1104.8,292.7 L1105.5,292.9 L1106.3,293.1 L1107.1,293.3 L1107.9,293.5 L1108.7,293.6 L1109.5,293.8 L1110.2,294.0 L1111.0,294.2 L1111.8,294.3 L1112.5,294.5 L1113.3,294.6 L1114.1,294.7 L1114.8,294.9 L1115.6,295.0 L1116.3,295.1 L1117.1,295.2 L1117.9,295.3 L1118.6,295.3 L1119.4,295.4 L1120.1,295.5 L1120.8,295.5 L1121.6,295.6 L1122.3,295.6 L1123.1,295.7 L1123.8,295.7 L1124.6,295.7 L1125.3,295.7 L1126.1,295.7 L1126.8,295.7 L1127.5,295.7 L1128.3,295.7 L1129.0,295.7 L1129.8,295.7 L1130.5,295.7 L1131.3,295.6 L1132.0,295.6 L1132.8,295.5 L1133.5,295.5 L1134.2,295.4 L1135.0,295.3 L1135.7,295.3 L1136.5,295.2 L1137.3,295.1 L1138.0,295.0 L1138.8,294.9 L1139.5,294.7 L1140.3,294.6 L1141.1,294.5 L1141.8,294.3 L1142.6,294.2 L1143.4,294.0 L1144.1,293.8 L1144.9,293.6 L1145.7,293.5 L1146.5,293.3 L1147.3,293.1 L1148.1,292.9 L1148.8,292.7 L1149.6,292.5 L1150.4,292.3 L1151.2,292.1 L1152.0,291.9 L1152.8,291.7 L1153.7,291.5 L1154.5,291.3 L1155.3,291.1 L1156.1,290.9 L1156.9,290.7 L1157.7,290.6 L1158.6,290.4 L1159.4,290.2 L1160.2,290.0 L1161.0,289.8 L1161.9,289.7 L1162.7,289.5 L1163.6,289.3 L1164.4,289.1 L1165.2,289.0 L1166.1,288.8 L1166.9,288.6 L1167.8,288.4 L1168.7,288.3 L1169.5,288.1 L1170.4,287.9 L1171.2,287.8 L1172.1,287.6 L1173.0,287.4 L1173.9,287.2 L1174.7,287.1 L1175.6,286.9 L1176.5,286.7 L1177.4,286.5 L1178.3,286.3 L1179.2,286.2 L1180.1,286.0 L1181.0,285.8 L1182.0,285.6 L1182.9,285.4 L1183.8,285.2 L1184.7,285.1 L1185.7,284.9 L1186.6,284.7 L1187.5,284.5 L1188.5,284.3 L1189.4,284.1 L1190.4,283.9 L1191.3,283.7 L1192.3,283.6 L1193.3,283.4 L1194.2,283.2 L1195.2,283.0 L1196.2,282.8 L1197.2,282.6 L1198.2,282.5 L1199.2,282.3 L1200.2,282.1 L1201.2,281.9 L1202.2,281.7 L1203.2,281.6 L1204.2,281.4 L1205.2,281.2 L1206.3,281.1 L1207.3,280.9 L1208.3,280.7 L1209.4,280.6 L1210.4,280.4 L1211.5,280.2 L1212.5,280.1 L1213.6,279.9 L1214.6,279.8 L1215.7,279.6 L1216.8,279.5 L1217.8,279.4 L1218.9,279.2 L1220.0,279.1 L1221.1,279.0 L1222.2,278.8 L1223.3,278.7 L1224.4,278.6 L1225.5,278.5 L1226.6,278.4 L1227.7,278.3 L1228.8,278.2 L1229.9,278.1 L1231.0,278.0 L1232.1,277.9 L1233.3,277.8 L1234.4,277.8 L1235.5,277.7 L1236.6,277.7 L1237.8,277.6 L1238.9,277.6 L1240.0,277.5 L1241.2,277.5 L1242.3,277.5 L1243.5,277.5 L1244.6,277.5 L1245.8,277.5 L1246.9,277.5 L1248.1,277.5 L1249.2,277.5 L1250.4,277.5 L1251.5,277.6 L1252.7,277.6 L1253.8,277.7 L1255.0,277.7 L1256.1,277.8 L1257.3,277.9 L1258.5,278.0 L1259.6,278.1 L1260.8,278.1 L1262.0,278.2 L1263.1,278.4 L1264.3,278.5 L1265.5,278.6 L1266.6,278.7 L1267.8,278.9 L1269.0,279.0 L1270.2,279.2 L1271.3,279.3 L1272.5,279.5 L1273.7,279.7 L1274.9,279.8 L1276.1,280.0 L1277.2,280.2 L1278.4,280.4 L1279.6,280.6 L1280.8,280.9 L1282.0,281.1 L1283.2,281.3 L1284.3,281.5 L1285.5,281.8 L1286.7,282.1 L1287.9,282.3 L1289.0,282.6 L1290.2,282.9 L1291.4,283.2 L1292.6,283.5 L1293.7,283.8 L1294.9,284.2 L1296.0,284.5 L1297.2,284.9 L1298.3,285.3 L1299.4,285.6 L1300.6,286.0 L1301.7,286.5 L1302.8,286.9 L1303.9,287.3 L1305.0,287.8 L1306.1,288.3 L1307.2,288.8 L1308.2,289.3 L1309.3,289.8 L1310.3,290.3 L1311.3,290.9 L1312.4,291.4 L1313.4,292.0 L1314.3,292.6 L1315.3,293.3 L1316.2,293.9 L1317.2,294.6 L1318.1,295.3 L1319.0,296.0 L1319.8,296.7 L1320.7,297.5 L1321.5,298.2 L1322.3,299.0 L1323.1,299.8 L1323.8,300.7 L1324.6,301.5 L1325.3,302.4 L1325.9,303.3 L1326.6,304.2 L1327.2,305.2 L1327.8,306.1 L1328.3,307.1 L1328.9,308.1 L1329.4,309.2 L1329.8,310.2 L1330.2,311.3 L1330.6,312.4 L1331.0,313.5 L1331.3,314.7 L1331.6,315.8 L1331.8,317.0 L1332.1,318.2 L1332.3,319.4 L1332.4,320.7 L1332.6,321.9 L1332.7,323.2 L1332.8,324.4 L1332.9,325.7 L1333.0,326.9 L1333.0,328.2 L1333.0,329.5 L1333.0,330.8 L1333.0,332.1 L1332.9,333.4 L1332.9,334.7 L1332.8,336.1 L1332.6,337.4 L1332.5,338.7 L1332.3,340.1 L1332.0,341.5 L1331.8,342.8 L1331.5,344.2 L1331.2,345.6 L1330.8,347.0 L1330.4,348.4 L1330.0,349.9 L1329.6,351.3 L1329.1,352.7 L1328.5,354.2 L1328.0,355.6 L1327.4,357.1 L1326.8,358.5 L1326.2,360.0 L1325.5,361.5 L1324.8,362.9 L1324.1,364.4 L1323.4,365.8 L1322.6,367.3 L1321.8,368.8 L1321.0,370.2 L1320.2,371.7 L1319.3,373.1 L1318.4,374.6 L1317.5,376.0 L1316.6,377.5 L1315.7,378.9 L1314.7,380.4 L1313.7,381.8 L1312.7,383.2 L1311.7,384.6 L1310.7,386.0 L1309.6,387.5 L1308.6,388.9 L1307.5,390.2 L1306.3,391.6 L1305.2,393.0 L1304.0,394.4 L1302.9,395.8 L1301.7,397.1 L1300.5,398.5 L1299.2,399.8 L1297.9,401.2 L1296.6,402.5 L1295.2,403.9 L1293.8,405.2 L1292.3,406.6 L1290.8,407.9 L1289.2,409.3 L1287.6,410.6 L1285.9,412.0 L1284.1,413.4 L1282.2,414.7 L1280.3,416.1 L1278.3,417.5 L1276.1,418.9 L1273.9,420.3 L1271.6,421.7 L1269.2,423.1 L1266.8,424.5 L1264.2,426.0 L1261.5,427.4 L1258.8,428.8 L1255.9,430.2 L1253.0,431.6 L1249.9,433.0 L1246.8,434.4 L1243.6,435.8 L1240.2,437.2 L1236.9,438.6 L1233.4,439.9 L1229.9,441.3 L1226.3,442.6 L1222.7,443.9 L1219.0,445.1 L1215.3,446.4 L1211.6,447.6 L1207.9,448.8 L1204.1,449.9 L1200.4,451.0 L1196.7,452.1 L1193.0,453.1 L1189.3,454.1 L1185.6,455.1 L1182.0,456.0 L1178.4,456.9 L1174.9,457.7 L1171.5,458.5 L1168.1,459.3 L1164.9,460.0 L1161.8,460.6 L1158.8,461.2 L1155.9,461.8 L1153.2,462.3 L1150.7,462.7 L1148.4,463.2 L1146.2,463.5 L1144.1,463.9 L1142.3,464.2 L1140.5,464.4 L1138.9,464.7 L1137.4,464.9 L1136.0,465.1 L1134.8,465.2 L1133.7,465.4 L1132.6,465.5 L1131.7,465.6 L1130.9,465.7 L1130.1,465.8 L1129.4,465.8 L1128.9,465.9 L1128.3,465.9 L1127.9,465.9 L1127.5,466.0 L1127.2,466.0 L1126.9,466.0 L1126.8,466.0 L1126.8,466.0 L1126.8,466.0 L1126.8,466.0 L1126.8,466.0 L1126.8,466.0 L1126.8,466.0 L1126.8,466.0 L1126.8,466.0 L1126.8,466.0" stroke="#17963a" stroke-width="2.2" fill="none" stroke-linejoin="round"/>
<path d="M1126.8,466.0 L1126.8,466.0 L1126.8,466.0 L1126.8,466.0 L1126.8,466.0 L1126.8,466.0 L1126.8,466.0 L1126.8,466.0 L1126.8,466.0 L1126.8,466.0 L1126.8,466.0 L1126.8,466.0 L1126.8,466.0 L1126.8,466.0 L1126.8,466.0 L1126.8,466.0 L1126.7,466.0 L1126.7,466.0 L1126.7,466.0 L1126.7,466.0 L1126.7,466.0 L1126.7,466.0 L1126.7,466.0 L1126.7,466.0 L1126.7,466.0 L1126.6,466.0 L1126.6,466.0 L1126.6,466.0 L1126.6,466.0 L1126.6,466.0 L1126.6,466.0 L1126.5,466.0 L1126.5,466.0 L1126.5,466.0 L1126.5,466.0 L1126.4,465.9 L1126.4,465.9 L1126.4,465.9 L1126.4,465.9 L1126.3,465.9 L1126.3,465.9 L1126.3,465.9 L1126.2,465.9 L1126.2,465.9 L1126.1,465.9 L1126.1,465.9 L1126.1,465.8 L1126.0,465.8 L1126.0,465.8 L1125.9,465.8 L1125.9,465.8 L1125.8,465.8 L1125.7,465.8 L1125.7,465.7 L1125.6,465.7 L1125.6,465.7 L1125.5,465.7 L1125.4,465.6 L1125.3,465.6 L1125.2,465.6 L1125.1,465.6 L1125.0,465.5 L1124.9,465.5 L1124.8,465.4 L1124.7,465.4 L1124.5,465.3 L1124.4,465.3 L1124.3,465.2 L1124.1,465.2 L1123.9,465.1 L1123.8,465.0 L1123.6,465.0 L1123.4,464.9 L1123.2,464.8 L1122.9,464.7 L1122.7,464.6 L1122.5,464.5 L1122.2,464.4 L1121.9,464.3 L1121.6,464.1 L1121.3,464.0 L1121.0,463.9 L1120.7,463.7 L1120.4,463.6 L1120.0,463.4 L1119.6,463.2 L1119.2,463.0 L1118.8,462.8 L1118.4,462.6 L1118.0,462.4 L1117.5,462.1 L1117.0,461.9 L1116.5,461.6 L1116.0,461.4 L1115.4,461.1 L1114.9,460.8 L1114.3,460.4 L1113.7,460.1 L1113.1,459.7 L1112.4,459.4 L1111.7,459.0 L1111.1,458.6 L1110.3,458.1 L1109.6,457.7 L1108.8,457.2 L1108.0,456.7 L1107.2,456.2 L1106.4,455.7 L1105.5,455.2 L1104.7,454.6 L1103.8,454.0 L1102.8,453.4 L1101.9,452.8 L1100.9,452.1 L1099.9,451.4 L1098.9,450.7 L1097.9,450.0 L1096.9,449.2 L1095.8,448.5 L1094.7,447.7 L1093.6,446.8 L1092.5,446.0 L1091.4,445.2 L1090.3,444.3 L1089.2,443.4 L1088.1,442.5 L1087.0,441.6 L1085.9,440.7 L1084.8,439.7 L1083.7,438.8 L1082.6,437.9 L1081.6,436.9 L1080.5,435.9 L1079.4,435.0 L1078.4,434.0 L1077.3,432.9 L1076.3,431.9 L1075.2,430.9 L1074.1,429.8 L1073.1,428.7 L1072.0,427.6 L1070.9,426.5 L1069.9,425.4 L1068.8,424.2 L1067.7,423.1 L1066.7,421.9 L1065.6,420.7 L1064.5,419.5 L1063.5,418.3 L1062.4,417.1 L1061.4,415.8 L1060.4,414.6 L1059.4,413.3 L1058.3,412.0 L1057.4,410.8 L1056.4,409.5 L1055.4,408.2 L1054.5,406.9 L1053.5,405.6 L1052.6,404.3 L1051.7,403.0 L1050.8,401.6 L1049.9,400.3 L1049.0,398.9 L1048.1,397.6 L1047.2,396.2 L1046.3,394.8 L1045.5,393.4 L1044.6,392.0 L1043.7,390.5 L1042.8,389.1 L1041.9,387.6 L1041.1,386.1 L1040.2,384.5 L1039.3,383.0 L1038.4,381.4 L1037.5,379.8 L1036.6,378.1 L1035.7,376.5 L1034.8,374.8 L1033.9,373.1 L1033.1,371.4 L1032.2,369.8 L1031.4,368.1 L1030.6,366.4 L1029.9,364.8 L1029.2,363.1 L1028.5,361.5 L1027.8,359.8 L1027.1,358.2 L1026.5,356.5 L1025.9,354.9 L1025.3,353.2 L1024.7,351.6 L1024.1,349.9 L1023.5,348.2 L1023.0,346.6 L1022.5,344.9 L1022.0,343.3 L1021.5,341.6 L1021.1,340.0 L1020.6,338.3 L1020.2,336.7 L1019.8,335.1 L1019.5,333.5 L1019.1,331.9 L1018.8,330.3 L1018.5,328.7 L1018.3,327.1 L1018.0,325.5 L1017.8,323.9 L1017.6,322.3 L1017.4,320.8 L1017.2,319.2 L1017.0,317.6 L1016.9,316.0 L1016.7,314.5 L1016.6,312.9 L1016.5,311.4 L1016.4,309.8 L1016.3,308.2 L1016.3,306.7 L1016.2,305.1 L1016.2,303.5 L1016.2,302.0 L1016.1,300.4 L1016.1,298.8 L1016.2,297.2 L1016.2,295.7 L1016.2,294.1 L1016.3,292.6 L1016.4,291.0 L1016.5,289.5 L1016.6,287.9 L1016.8,286.4 L1016.9,284.9 L1017.1,283.4 L1017.3,282.0 L1017.5,280.5 L1017.8,279.1 L1018.1,277.7 L1018.4,276.3 L1018.7,274.9 L1019.0,273.6 L1019.4,272.2 L1019.8,270.9 L1020.2,269.6 L1020.6,268.3 L1021.0,267.1 L1021.5,265.8 L1022.0,264.6 L1022.5,263.4 L1023.0,262.2 L1023.5,261.0 L1024.0,259.9 L1024.6,258.7 L1025.2,257.6 L1025.7,256.5 L1026.3,255.4 L1027.0,254.3 L1027.6,253.2 L1028.2,252.2 L1028.9,251.1 L1029.5,250.1 L1030.2,249.0 L1030.9,248.0 L1031.6,247.0 L1032.3,246.0 L1033.0,245.0 L1033.7,244.0 L1034.4,243.0 L1035.2,242.1 L1035.9,241.1 L1036.7,240.1 L1037.5,239.2 L1038.2,238.2 L1039.0,237.3 L1039.8,236.4 L1040.6,235.4 L1041.4,234.5 L1042.2,233.6 L1043.0,232.7 L1043.9,231.8 L1044.7,230.9 L1045.5,230.0 L1046.4,229.1 L1047.2,228.2 L1048.1,227.3 L1049.0,226.4 L1049.8,225.6 L1050.7,224.7 L1051.6,223.9 L1052.5,223.1 L1053.5,222.3 L1054.4,221.5 L1055.3,220.8 L1056.3,220.0 L1057.2,219.3 L1058.2,218.6 L1059.2,217.9 L1060.1,217.3 L1061.1,216.6 L1062.1,216.0 L1063.2,215.4 L1064.2,214.8 L1065.2,214.3 L1066.2,213.8 L1067.3,213.3 L1068.3,212.8 L1069.4,212.3 L1070.5,211.9 L1071.5,211.4 L1072.6,211.0 L1073.7,210.6 L1074.8,210.2 L1075.9,209.9 L1076.9,209.5 L1078.0,209.2 L1079.1,208.8 L1080.2,208.5 L1081.3,208.2 L1082.5,207.9 L1083.6,207.7 L1084.7,207.4 L1085.8,207.1 L1086.9,206.9 L1088.0,206.7 L1089.2,206.4 L1090.3,206.2 L1091.4,206.0 L1092.5,205.8 L1093.7,205.6 L1094.8,205.4 L1095.9,205.2 L1097.1,205.0 L1098.2,204.8 L1099.3,204.6 L1100.5,204.5 L1101.6,204.3 L1102.7,204.1 L1103.9,204.0 L1105.0,203.9 L1106.2,203.7 L1107.3,203.6 L1108.4,203.5 L1109.6,203.4 L1110.7,203.3 L1111.9,203.2 L1113.0,203.1 L1114.2,203.0 L1115.3,202.9 L1116.5,202.8 L1117.6,202.8 L1118.8,202.7 L1119.9,202.7 L1121.1,202.6 L1122.2,202.6 L1123.4,202.6 L1124.5,202.5 L1125.7,202.5 L1126.8,202.5 L1127.9,202.5 L1129.1,202.5 L1130.2,202.6 L1131.4,202.6 L1132.5,202.6 L1133.7,202.7 L1134.8,202.7 L1136.0,202.8 L1137.1,202.8 L1138.3,202.9 L1139.4,203.0 L1140.6,203.1 L1141.7,203.2 L1142.9,203.3 L1144.0,203.4 L1145.2,203.5 L1146.3,203.6 L1147.4,203.7 L1148.6,203.9 L1149.7,204.0 L1150.9,204.1 L1152.0,204.3 L1153.1,204.5 L1154.3,204.6 L1155.4,204.8 L1156.5,205.0 L1157.7,205.2 L1158.8,205.4 L1159.9,205.6 L1161.1,205.8 L1162.2,206.0 L1163.3,206.2 L1164.4,206.4 L1165.6,206.7 L1166.7,206.9 L1167.8,207.1 L1168.9,207.4 L1170.0,207.7 L1171.1,207.9 L1172.3,208.2 L1173.4,208.5 L1174.5,208.8 L1175.6,209.2 L1176.7,209.5 L1177.7,209.9 L1178.8,210.2 L1179.9,210.6 L1181.0,211.0 L1182.1,211.4 L1183.1,211.9 L1184.2,212.3 L1185.3,212.8 L1186.3,213.3 L1187.4,213.8 L1188.4,214.3 L1189.4,214.8 L1190.4,215.4 L1191.5,216.0 L1192.5,216.6 L1193.5,217.3 L1194.4,217.9 L1195.4,218.6 L1196.4,219.3 L1197.3,220.0 L1198.3,220.8 L1199.2,221.5 L1200.1,222.3 L1201.1,223.1 L1202.0,223.9 L1202.9,224.7 L1203.8,225.6 L1204.6,226.4 L1205.5,227.3 L1206.4,228.2 L1207.2,229.1 L1208.1,230.0 L1208.9,230.9 L1209.7,231.8 L1210.6,232.7 L1211.4,233.6 L1212.2,234.5 L1213.0,235.4 L1213.8,236.4 L1214.6,237.3 L1215.4,238.2 L1216.1,239.2 L1216.9,240.1 L1217.7,241.1 L1218.4,242.1 L1219.2,243.0 L1219.9,244.0 L1220.6,245.0 L1221.3,246.0 L1222.0,247.0 L1222.7,248.0 L1223.4,249.0 L1224.1,250.1 L1224.7,251.1 L1225.4,252.2 L1226.0,253.2 L1226.6,254.3 L1227.3,255.4 L1227.9,256.5 L1228.4,257.6 L1229.0,258.7 L1229.6,259.9 L1230.1,261.0 L1230.6,262.2 L1231.1,263.4 L1231.6,264.6 L1232.1,265.8 L1232.6,267.1 L1233.0,268.3 L1233.4,269.6 L1233.8,270.9 L1234.2,272.2 L1234.6,273.6 L1234.9,274.9 L1235.2,276.3 L1235.5,277.7 L1235.8,279.1 L1236.1,280.5 L1236.3,282.0 L1236.5,283.4 L1236.7,284.9 L1236.8,286.4 L1237.0,287.9 L1237.1,289.5 L1237.2,291.0 L1237.3,292.6 L1237.4,294.1 L1237.4,295.7 L1237.4,297.2 L1237.5,298.8 L1237.5,300.4 L1237.4,302.0 L1237.4,303.5 L1237.4,305.1 L1237.3,306.7 L1237.3,308.2 L1237.2,309.8 L1237.1,311.4 L1237.0,312.9 L1236.9,314.5 L1236.7,316.0 L1236.6,317.6 L1236.4,319.2 L1236.2,320.8 L1236.0,322.3 L1235.8,323.9 L1235.6,325.5 L1235.3,327.1 L1235.1,328.7 L1234.8,330.3 L1234.5,331.9 L1234.1,333.5 L1233.8,335.1 L1233.4,336.7 L1233.0,338.3 L1232.5,340.0 L1232.1,341.6 L1231.6,343.3 L1231.1,344.9 L1230.6,346.6 L1230.1,348.2 L1229.5,349.9 L1228.9,351.6 L1228.3,353.2 L1227.7,354.9 L1227.1,356.5 L1226.5,358.2 L1225.8,359.8 L1225.1,361.5 L1224.4,363.1 L1223.7,364.8 L1223.0,366.4 L1222.2,368.1 L1221.4,369.8 L1220.5,371.4 L1219.7,373.1 L1218.8,374.8 L1217.9,376.5 L1217.0,378.1 L1216.1,379.8 L1215.2,381.4 L1214.3,383.0 L1213.4,384.5 L1212.5,386.1 L1211.7,387.6 L1210.8,389.1 L1209.9,390.5 L1209.0,392.0 L1208.1,393.4 L1207.3,394.8 L1206.4,396.2 L1205.5,397.6 L1204.6,398.9 L1203.7,400.3 L1202.8,401.6 L1201.9,403.0 L1201.0,404.3 L1200.1,405.6 L1199.1,406.9 L1198.2,408.2 L1197.2,409.5 L1196.2,410.8 L1195.3,412.0 L1194.2,413.3 L1193.2,414.6 L1192.2,415.8 L1191.2,417.1 L1190.1,418.3 L1189.1,419.5 L1188.0,420.7 L1186.9,421.9 L1185.9,423.1 L1184.8,424.2 L1183.7,425.4 L1182.7,426.5 L1181.6,427.6 L1180.5,428.7 L1179.5,429.8 L1178.4,430.9 L1177.3,431.9 L1176.3,432.9 L1175.2,434.0 L1174.2,435.0 L1173.1,435.9 L1172.0,436.9 L1171.0,437.9 L1169.9,438.8 L1168.8,439.7 L1167.7,440.7 L1166.6,441.6 L1165.5,442.5 L1164.4,443.4 L1163.3,444.3 L1162.2,445.2 L1161.1,446.0 L1160.0,446.8 L1158.9,447.7 L1157.8,448.5 L1156.7,449.2 L1155.7,450.0 L1154.7,450.7 L1153.7,451.4 L1152.7,452.1 L1151.7,452.8 L1150.8,453.4 L1149.8,454.0 L1148.9,454.6 L1148.1,455.2 L1147.2,455.7 L1146.4,456.2 L1145.6,456.7 L1144.8,457.2 L1144.0,457.7 L1143.3,458.1 L1142.5,458.6 L1141.9,459.0 L1141.2,459.4 L1140.5,459.7 L1139.9,460.1 L1139.3,460.4 L1138.7,460.8 L1138.2,461.1 L1137.6,461.4 L1137.1,461.6 L1136.6,461.9 L1136.1,462.1 L1135.6,462.4 L1135.2,462.6 L1134.8,462.8 L1134.4,463.0 L1134.0,463.2 L1133.6,463.4 L1133.2,463.6 L1132.9,463.7 L1132.6,463.9 L1132.3,464.0 L1132.0,464.1 L1131.7,464.3 L1131.4,464.4 L1131.1,464.5 L1130.9,464.6 L1130.7,464.7 L1130.4,464.8 L1130.2,464.9 L1130.0,465.0 L1129.8,465.0 L1129.7,465.1 L1129.5,465.2 L1129.3,465.2 L1129.2,465.3 L1129.1,465.3 L1128.9,465.4 L1128.8,465.4 L1128.7,465.5 L1128.6,465.5 L1128.5,465.6 L1128.4,465.6 L1128.3,465.6 L1128.2,465.6 L1128.1,465.7 L1128.0,465.7 L1128.0,465.7 L1127.9,465.7 L1127.9,465.8 L1127.8,465.8 L1127.7,465.8 L1127.7,465.8 L1127.6,465.8 L1127.6,465.8 L1127.5,465.8 L1127.5,465.9 L1127.5,465.9 L1127.4,465.9 L1127.4,465.9 L1127.3,465.9 L1127.3,465.9 L1127.3,465.9 L1127.2,465.9 L1127.2,465.9 L1127.2,465.9 L1127.2,465.9 L1127.1,466.0 L1127.1,466.0 L1127.1,466.0 L1127.1,466.0 L1127.0,466.0 L1127.0,466.0 L1127.0,466.0 L1127.0,466.0 L1127.0,466.0 L1127.0,466.0 L1126.9,466.0 L1126.9,466.0 L1126.9,466.0 L1126.9,466.0 L1126.9,466.0 L1126.9,466.0 L1126.9,466.0 L1126.9,466.0 L1126.9,466.0 L1126.8,466.0 L1126.8,466.0 L1126.8,466.0 L1126.8,466.0 L1126.8,466.0 L1126.8,466.0 L1126.8,466.0 L1126.8,466.0 L1126.8,466.0 L1126.8,466.0 L1126.8,466.0 L1126.8,466.0 L1126.8,466.0 L1126.8,466.0 L1126.8,466.0 L1126.8,466.0" stroke="#2b2e9a" stroke-width="2.2" fill="none" stroke-linejoin="round"/>
<path d="M1126.8,466.0 L1126.8,466.0 L1126.6,466.0 L1126.4,466.0 L1126.1,466.0 L1125.9,466.0 L1125.6,466.0 L1125.3,466.0 L1125.0,465.9 L1124.6,465.9 L1124.3,465.9 L1123.9,465.9 L1123.5,465.8 L1123.0,465.8 L1122.6,465.7 L1122.1,465.7 L1121.5,465.6 L1121.0,465.6 L1120.4,465.5 L1119.7,465.4 L1119.1,465.3 L1118.4,465.2 L1117.7,465.1 L1116.9,465.0 L1116.1,464.9 L1115.3,464.7 L1114.5,464.6 L1113.6,464.4 L1112.7,464.3 L1111.7,464.1 L1110.8,463.9 L1109.8,463.7 L1108.8,463.5 L1107.7,463.2 L1106.7,463.0 L1105.6,462.7 L1104.5,462.5 L1103.3,462.2 L1102.2,461.9 L1101.0,461.6 L1099.8,461.2 L1098.6,460.9 L1097.4,460.5 L1096.1,460.2 L1094.9,459.8 L1093.6,459.4 L1092.3,459.0 L1091.0,458.5 L1089.6,458.1 L1088.3,457.6 L1086.9,457.2 L1085.5,456.7 L1084.2,456.2 L1082.8,455.6 L1081.4,455.1 L1079.9,454.5 L1078.5,454.0 L1077.1,453.4 L1075.7,452.8 L1074.3,452.2 L1072.9,451.6 L1071.5,450.9 L1070.1,450.3 L1068.7,449.6 L1067.3,448.9 L1065.9,448.3 L1064.6,447.6 L1063.2,446.9 L1061.9,446.1 L1060.5,445.4 L1059.2,444.7 L1057.9,443.9 L1056.6,443.2 L1055.3,442.4 L1054.0,441.6 L1052.7,440.9 L1051.5,440.1 L1050.2,439.3 L1049.0,438.4 L1047.7,437.6 L1046.5,436.8 L1045.2,435.9 L1044.0,435.0 L1042.8,434.2 L1041.5,433.3 L1040.3,432.4 L1039.1,431.4 L1037.8,430.5 L1036.5,429.5 L1035.3,428.6 L1034.0,427.6 L1032.7,426.6 L1031.5,425.5 L1030.2,424.5 L1028.9,423.4 L1027.7,422.4 L1026.4,421.3 L1025.2,420.2 L1024.0,419.1 L1022.8,418.1 L1021.6,417.0 L1020.5,415.8 L1019.3,414.7 L1018.2,413.6 L1017.2,412.5 L1016.1,411.4 L1015.1,410.3 L1014.1,409.2 L1013.2,408.1 L1012.3,407.0 L1011.4,405.9 L1010.5,404.8 L1009.6,403.7 L1008.8,402.6 L1008.0,401.5 L1007.2,400.4 L1006.5,399.3 L1005.7,398.2 L1005.0,397.1 L1004.3,396.0 L1003.6,394.9 L1002.9,393.7 L1002.2,392.6 L1001.5,391.5 L1000.9,390.3 L1000.3,389.2 L999.6,388.1 L999.0,386.9 L998.4,385.8 L997.8,384.6 L997.2,383.4 L996.6,382.3 L996.0,381.1 L995.5,379.9 L994.9,378.7 L994.4,377.5 L993.8,376.3 L993.3,375.1 L992.8,373.9 L992.3,372.7 L991.7,371.4 L991.2,370.2 L990.7,368.9 L990.2,367.7 L989.8,366.4 L989.3,365.2 L988.8,363.9 L988.3,362.6 L987.9,361.3 L987.4,360.0 L987.0,358.7 L986.6,357.4 L986.1,356.1 L985.7,354.8 L985.3,353.4 L984.9,352.1 L984.5,350.8 L984.1,349.4 L983.7,348.0 L983.3,346.7 L983.0,345.3 L982.6,343.9 L982.3,342.6 L981.9,341.2 L981.6,339.8 L981.3,338.4 L981.0,337.0 L980.7,335.6 L980.5,334.3 L980.2,332.9 L980.0,331.5 L979.8,330.1 L979.6,328.7 L979.4,327.3 L979.2,326.0 L979.1,324.6 L979.0,323.2 L978.9,321.9 L978.8,320.5 L978.7,319.2 L978.7,317.9 L978.6,316.5 L978.6,315.2 L978.6,313.9 L978.6,312.6 L978.6,311.2 L978.7,309.9 L978.8,308.6 L978.8,307.3 L978.9,306.0 L979.0,304.7 L979.1,303.4 L979.3,302.1 L979.4,300.9 L979.5,299.6 L979.7,298.3 L979.9,297.0 L980.1,295.7 L980.3,294.4 L980.5,293.1 L980.7,291.8 L980.9,290.6 L981.1,289.3 L981.4,288.0 L981.6,286.7 L981.9,285.4 L982.2,284.2 L982.4,282.9 L982.7,281.6 L983.0,280.3 L983.4,279.1 L983.7,277.8 L984.0,276.5 L984.4,275.3 L984.7,274.0 L985.1,272.8 L985.5,271.5 L985.9,270.3 L986.3,269.0 L986.7,267.8 L987.1,266.5 L987.6,265.3 L988.0,264.1 L988.5,262.8 L989.0,261.6 L989.4,260.4 L989.9,259.2 L990.4,258.0 L990.9,256.8 L991.5,255.6 L992.0,254.4 L992.5,253.2 L993.1,252.0 L993.7,250.9 L994.2,249.7 L994.8,248.5 L995.4,247.4 L996.0,246.2 L996.7,245.1 L997.3,243.9 L997.9,242.8 L998.6,241.7 L999.2,240.5 L999.9,239.4 L1000.6,238.3 L1001.3,237.2 L1002.0,236.1 L1002.7,235.0 L1003.4,233.9 L1004.1,232.8 L1004.9,231.8 L1005.6,230.7 L1006.4,229.7 L1007.1,228.6 L1007.9,227.6 L1008.7,226.5 L1009.5,225.5 L1010.3,224.5 L1011.1,223.5 L1011.9,222.5 L1012.8,221.5 L1013.6,220.5 L1014.5,219.5 L1015.3,218.5 L1016.2,217.5 L1017.1,216.6 L1017.9,215.6 L1018.8,214.7 L1019.7,213.8 L1020.6,212.8 L1021.6,211.9 L1022.5,211.0 L1023.4,210.1 L1024.3,209.2 L1025.3,208.3 L1026.3,207.4 L1027.2,206.6 L1028.2,205.7 L1029.2,204.9 L1030.2,204.0 L1031.1,203.2 L1032.1,202.4 L1033.2,201.5 L1034.2,200.7 L1035.2,199.9 L1036.2,199.2 L1037.3,198.4 L1038.3,197.6 L1039.3,196.8 L1040.4,196.1 L1041.5,195.3 L1042.5,194.6 L1043.6,193.9 L1044.7,193.2 L1045.8,192.5 L1046.9,191.8 L1048.0,191.1 L1049.1,190.4 L1050.2,189.7 L1051.3,189.1 L1052.4,188.4 L1053.5,187.8 L1054.7,187.1 L1055.8,186.5 L1057.0,185.9 L1058.1,185.3 L1059.3,184.7 L1060.4,184.1 L1061.6,183.5 L1062.8,183.0 L1063.9,182.4 L1065.1,181.9 L1066.3,181.4 L1067.5,180.8 L1068.7,180.3 L1069.9,179.8 L1071.1,179.3 L1072.3,178.8 L1073.5,178.4 L1074.7,177.9 L1075.9,177.4 L1077.1,177.0 L1078.4,176.6 L1079.6,176.2 L1080.8,175.7 L1082.1,175.3 L1083.3,175.0 L1084.5,174.6 L1085.8,174.2 L1087.0,173.9 L1088.3,173.5 L1089.5,173.2 L1090.8,172.8 L1092.1,172.5 L1093.3,172.2 L1094.6,171.9 L1095.9,171.7 L1097.1,171.4 L1098.4,171.1 L1099.7,170.9 L1101.0,170.7 L1102.2,170.4 L1103.5,170.2 L1104.8,170.0 L1106.1,169.8 L1107.4,169.6 L1108.7,169.5 L1110.0,169.3 L1111.2,169.2 L1112.5,169.0 L1113.8,168.9 L1115.1,168.8 L1116.4,168.7 L1117.7,168.6 L1119.0,168.6 L1120.3,168.5 L1121.6,168.4 L1122.9,168.4 L1124.2,168.4 L1125.5,168.3 L1126.8,168.3 L1128.1,168.3 L1129.4,168.4 L1130.7,168.4 L1132.0,168.4 L1133.3,168.5 L1134.6,168.6 L1135.9,168.6 L1137.2,168.7 L1138.5,168.8 L1139.8,168.9 L1141.1,169.0 L1142.4,169.2 L1143.6,169.3 L1144.9,169.5 L1146.2,169.6 L1147.5,169.8 L1148.8,170.0 L1150.1,170.2 L1151.4,170.4 L1152.6,170.7 L1153.9,170.9 L1155.2,171.1 L1156.5,171.4 L1157.7,171.7 L1159.0,171.9 L1160.3,172.2 L1161.5,172.5 L1162.8,172.8 L1164.1,173.2 L1165.3,173.5 L1166.6,173.9 L1167.8,174.2 L1169.1,174.6 L1170.3,175.0 L1171.5,175.3 L1172.8,175.7 L1174.0,176.2 L1175.2,176.6 L1176.5,177.0 L1177.7,177.4 L1178.9,177.9 L1180.1,178.4 L1181.3,178.8 L1182.5,179.3 L1183.7,179.8 L1184.9,180.3 L1186.1,180.8 L1187.3,181.4 L1188.5,181.9 L1189.7,182.4 L1190.8,183.0 L1192.0,183.5 L1193.2,184.1 L1194.3,184.7 L1195.5,185.3 L1196.6,185.9 L1197.8,186.5 L1198.9,187.1 L1200.1,187.8 L1201.2,188.4 L1202.3,189.1 L1203.4,189.7 L1204.5,190.4 L1205.6,191.1 L1206.7,191.8 L1207.8,192.5 L1208.9,193.2 L1210.0,193.9 L1211.1,194.6 L1212.1,195.3 L1213.2,196.1 L1214.3,196.8 L1215.3,197.6 L1216.3,198.4 L1217.4,199.2 L1218.4,199.9 L1219.4,200.7 L1220.4,201.5 L1221.5,202.4 L1222.5,203.2 L1223.4,204.0 L1224.4,204.9 L1225.4,205.7 L1226.4,206.6 L1227.3,207.4 L1228.3,208.3 L1229.3,209.2 L1230.2,210.1 L1231.1,211.0 L1232.0,211.9 L1233.0,212.8 L1233.9,213.8 L1234.8,214.7 L1235.7,215.6 L1236.5,216.6 L1237.4,217.5 L1238.3,218.5 L1239.1,219.5 L1240.0,220.5 L1240.8,221.5 L1241.7,222.5 L1242.5,223.5 L1243.3,224.5 L1244.1,225.5 L1244.9,226.5 L1245.7,227.6 L1246.5,228.6 L1247.2,229.7 L1248.0,230.7 L1248.7,231.8 L1249.5,232.8 L1250.2,233.9 L1250.9,235.0 L1251.6,236.1 L1252.3,237.2 L1253.0,238.3 L1253.7,239.4 L1254.4,240.5 L1255.0,241.7 L1255.7,242.8 L1256.3,243.9 L1256.9,245.1 L1257.6,246.2 L1258.2,247.4 L1258.8,248.5 L1259.4,249.7 L1259.9,250.9 L1260.5,252.0 L1261.1,253.2 L1261.6,254.4 L1262.1,255.6 L1262.7,256.8 L1263.2,258.0 L1263.7,259.2 L1264.2,260.4 L1264.6,261.6 L1265.1,262.8 L1265.6,264.1 L1266.0,265.3 L1266.5,266.5 L1266.9,267.8 L1267.3,269.0 L1267.7,270.3 L1268.1,271.5 L1268.5,272.8 L1268.9,274.0 L1269.2,275.3 L1269.6,276.5 L1269.9,277.8 L1270.2,279.1 L1270.6,280.3 L1270.9,281.6 L1271.2,282.9 L1271.4,284.2 L1271.7,285.4 L1272.0,286.7 L1272.2,288.0 L1272.5,289.3 L1272.7,290.6 L1272.9,291.8 L1273.1,293.1 L1273.3,294.4 L1273.5,295.7 L1273.7,297.0 L1273.9,298.3 L1274.1,299.6 L1274.2,300.9 L1274.3,302.1 L1274.5,303.4 L1274.6,304.7 L1274.7,306.0 L1274.8,307.3 L1274.8,308.6 L1274.9,309.9 L1275.0,311.2 L1275.0,312.6 L1275.0,313.9 L1275.0,315.2 L1275.0,316.5 L1274.9,317.9 L1274.9,319.2 L1274.8,320.5 L1274.7,321.9 L1274.6,323.2 L1274.5,324.6 L1274.4,326.0 L1274.2,327.3 L1274.0,328.7 L1273.8,330.1 L1273.6,331.5 L1273.4,332.9 L1273.1,334.3 L1272.9,335.6 L1272.6,337.0 L1272.3,338.4 L1272.0,339.8 L1271.7,341.2 L1271.3,342.6 L1271.0,343.9 L1270.6,345.3 L1270.3,346.7 L1269.9,348.0 L1269.5,349.4 L1269.1,350.8 L1268.7,352.1 L1268.3,353.4 L1267.9,354.8 L1267.5,356.1 L1267.0,357.4 L1266.6,358.7 L1266.2,360.0 L1265.7,361.3 L1265.3,362.6 L1264.8,363.9 L1264.3,365.2 L1263.8,366.4 L1263.4,367.7 L1262.9,368.9 L1262.4,370.2 L1261.9,371.4 L1261.3,372.7 L1260.8,373.9 L1260.3,375.1 L1259.8,376.3 L1259.2,377.5 L1258.7,378.7 L1258.1,379.9 L1257.6,381.1 L1257.0,382.3 L1256.4,383.4 L1255.8,384.6 L1255.2,385.8 L1254.6,386.9 L1254.0,388.1 L1253.3,389.2 L1252.7,390.3 L1252.1,391.5 L1251.4,392.6 L1250.7,393.7 L1250.0,394.9 L1249.3,396.0 L1248.6,397.1 L1247.9,398.2 L1247.1,399.3 L1246.4,400.4 L1245.6,401.5 L1244.8,402.6 L1244.0,403.7 L1243.1,404.8 L1242.2,405.9 L1241.3,407.0 L1240.4,408.1 L1239.5,409.2 L1238.5,410.3 L1237.5,411.4 L1236.4,412.5 L1235.4,413.6 L1234.3,414.7 L1233.1,415.8 L1232.0,417.0 L1230.8,418.1 L1229.6,419.1 L1228.4,420.2 L1227.2,421.3 L1225.9,422.4 L1224.7,423.4 L1223.4,424.5 L1222.1,425.5 L1220.9,426.6 L1219.6,427.6 L1218.3,428.6 L1217.1,429.5 L1215.8,430.5 L1214.5,431.4 L1213.3,432.4 L1212.1,433.3 L1210.8,434.2 L1209.6,435.0 L1208.4,435.9 L1207.1,436.8 L1205.9,437.6 L1204.6,438.4 L1203.4,439.3 L1202.1,440.1 L1200.9,440.9 L1199.6,441.6 L1198.3,442.4 L1197.0,443.2 L1195.7,443.9 L1194.4,444.7 L1193.1,445.4 L1191.7,446.1 L1190.4,446.9 L1189.0,447.6 L1187.7,448.3 L1186.3,448.9 L1184.9,449.6 L1183.5,450.3 L1182.1,450.9 L1180.7,451.6 L1179.3,452.2 L1177.9,452.8 L1176.5,453.4 L1175.1,454.0 L1173.7,454.5 L1172.2,455.1 L1170.8,455.6 L1169.4,456.2 L1168.1,456.7 L1166.7,457.2 L1165.3,457.6 L1164.0,458.1 L1162.6,458.5 L1161.3,459.0 L1160.0,459.4 L1158.7,459.8 L1157.5,460.2 L1156.2,460.5 L1155.0,460.9 L1153.8,461.2 L1152.6,461.6 L1151.4,461.9 L1150.3,462.2 L1149.1,462.5 L1148.0,462.7 L1146.9,463.0 L1145.9,463.2 L1144.8,463.5 L1143.8,463.7 L1142.8,463.9 L1141.9,464.1 L1140.9,464.3 L1140.0,464.4 L1139.1,464.6 L1138.3,464.7 L1137.5,464.9 L1136.7,465.0 L1135.9,465.1 L1135.2,465.2 L1134.5,465.3 L1133.9,465.4 L1133.2,465.5 L1132.6,465.6 L1132.1,465.6 L1131.5,465.7 L1131.0,465.7 L1130.6,465.8 L1130.1,465.8 L1129.7,465.9 L1129.3,465.9 L1129.0,465.9 L1128.6,465.9 L1128.3,466.0 L1128.0,466.0 L1127.7,466.0 L1127.5,466.0 L1127.2,466.0 L1127.0,466.0 L1126.8,466.0 L1126.8,466.0" stroke="#e2141e" stroke-width="2.2" fill="none" stroke-linejoin="round"/>
<path d="M1058.1,1041.7L832.7,1022.0M1058.9,1035.2L836.2,995.9M1062.3,1022.5L849.8,945.1M1064.9,1016.4L859.9,920.8M1071.4,1005.1L886.1,875.3M1075.4,999.8L902.2,854.4M1084.7,990.5L939.3,817.3M1090.0,986.5L960.2,801.2M1101.3,980.0L1005.7,775.0M1107.4,977.4L1030.0,764.9M1120.1,974.0L1080.8,751.3M1126.6,973.2L1106.9,747.8M1139.8,973.2L1159.5,747.8M1146.3,974.0L1185.6,751.3M1159.0,977.4L1236.4,764.9M1165.1,980.0L1260.7,775.0M1176.4,986.5L1306.2,801.2M1181.7,990.5L1327.1,817.3M1191.0,999.8L1364.2,854.4M1195.0,1005.1L1380.3,875.3M1201.5,1016.4L1406.5,920.8M1204.1,1022.5L1416.6,945.1M1207.5,1035.2L1430.2,995.9M1208.3,1041.7L1433.7,1022.0" stroke="#b5b9d8" stroke-width="1.1" stroke-dasharray="2 2.6" fill="none"/>
<path d="M833.7,1022.1L830.3,1021.8M837.2,996.1L833.7,995.5M850.7,945.5L847.4,944.3M860.8,921.3L857.6,919.8M887.0,875.9L884.1,873.9M902.9,855.1L900.2,852.8M940.0,818.0L937.7,815.3M960.8,802.1L958.8,799.2M1006.2,775.9L1004.7,772.7M1030.4,765.8L1029.2,762.5M1081.0,752.3L1080.4,748.8M1107.0,748.8L1106.7,745.4M1159.4,748.8L1159.7,745.4M1185.4,752.3L1186.0,748.8M1236.0,765.8L1237.2,762.5M1260.2,775.9L1261.7,772.7M1305.6,802.1L1307.6,799.2M1326.4,818.0L1328.7,815.3M1363.5,855.1L1366.2,852.8M1379.4,875.9L1382.3,873.9M1405.6,921.3L1408.8,919.8M1415.7,945.5L1419.0,944.3M1429.2,996.1L1432.7,995.5M1432.7,1022.1L1436.1,1021.8" stroke="#1a1a1a" stroke-width="1.6" fill="none"/>
<path d="M1057.8,1052.3L1057.8,1048.3A75.4,75.4 0 0 1 1208.6,1048.3L1208.6,1052.3M982.4,1052.3L982.4,1048.3A150.8,150.8 0 0 1 1284.0,1048.3L1284.0,1052.3M907.0,1052.3L907.0,1048.3A226.2,226.2 0 0 1 1359.4,1048.3L1359.4,1052.3M831.6,1052.3L831.6,1048.3A301.6,301.6 0 0 1 1434.8,1048.3L1434.8,1052.3" stroke="#1a1a1a" stroke-width="2.4" fill="none"/>
<path d="M1133.2,1048.3L839.9,969.7M1133.2,1048.3L870.3,896.5M1133.2,1048.3L918.5,833.6M1133.2,1048.3L981.4,785.4M1133.2,1048.3L1054.6,755.0M1133.2,1048.3L1133.2,744.7M1133.2,1048.3L1211.8,755.0M1133.2,1048.3L1285.0,785.4M1133.2,1048.3L1347.9,833.6M1133.2,1048.3L1396.1,896.5M1133.2,1048.3L1426.5,969.7M1133.2,1052.3V1048.3" stroke="#1a1a1a" stroke-width="2.4" fill="none"/>
<path d="M827.6,1048.3H1438.8" stroke="#222" stroke-width="3" fill="none"/>
<path d="M1133.2,1048.3 L1132.9,1048.3 L1132.6,1048.3 L1132.3,1048.3 L1132.0,1048.3 L1131.6,1048.3 L1131.3,1048.2 L1130.9,1048.2 L1130.6,1048.2 L1130.2,1048.2 L1129.8,1048.2 L1129.5,1048.1 L1129.1,1048.1 L1128.7,1048.0 L1128.3,1048.0 L1128.0,1048.0 L1127.6,1047.9 L1127.2,1047.9 L1126.8,1047.8 L1126.4,1047.7 L1126.0,1047.7 L1125.6,1047.6 L1125.2,1047.5 L1124.9,1047.5 L1124.5,1047.4 L1124.1,1047.3 L1123.7,1047.2 L1123.3,1047.1 L1122.9,1047.0 L1122.5,1046.9 L1122.1,1046.8 L1121.7,1046.7 L1121.3,1046.6 L1120.9,1046.5 L1120.5,1046.4 L1120.1,1046.3 L1119.7,1046.2 L1119.3,1046.0 L1118.9,1045.9 L1118.5,1045.8 L1118.1,1045.6 L1117.7,1045.5 L1117.3,1045.3 L1116.9,1045.2 L1116.5,1045.0 L1116.1,1044.9 L1115.7,1044.7 L1115.3,1044.6 L1114.9,1044.4 L1114.5,1044.2 L1114.1,1044.1 L1113.7,1043.9 L1113.3,1043.7 L1112.9,1043.5 L1112.5,1043.3 L1112.1,1043.1 L1111.7,1042.9 L1111.3,1042.7 L1111.0,1042.5 L1110.6,1042.3 L1110.2,1042.1 L1109.8,1041.9 L1109.4,1041.7 L1109.0,1041.5 L1108.6,1041.3 L1108.3,1041.0 L1107.9,1040.8 L1107.5,1040.6 L1107.1,1040.3 L1106.8,1040.1 L1106.4,1039.8 L1106.0,1039.6 L1105.7,1039.4 L1105.3,1039.1 L1104.9,1038.8 L1104.6,1038.6 L1104.2,1038.3 L1103.8,1038.0 L1103.5,1037.8 L1103.1,1037.5 L1102.8,1037.2 L1102.4,1036.9 L1102.1,1036.7 L1101.7,1036.4 L1101.4,1036.1 L1101.0,1035.8 L1100.7,1035.5 L1100.4,1035.2 L1100.0,1034.9 L1099.7,1034.6 L1099.3,1034.3 L1099.0,1034.0 L1098.7,1033.7 L1098.4,1033.3 L1098.0,1033.0 L1097.7,1032.7 L1097.4,1032.4 L1097.1,1032.0 L1096.8,1031.7 L1096.5,1031.4 L1096.2,1031.0 L1095.9,1030.7 L1095.6,1030.3 L1095.3,1030.0 L1095.0,1029.6 L1094.7,1029.3 L1094.4,1028.9 L1094.1,1028.6 L1093.8,1028.2 L1093.5,1027.9 L1093.2,1027.5 L1093.0,1027.1 L1092.7,1026.8 L1092.4,1026.4 L1092.2,1026.0 L1091.9,1025.6 L1091.6,1025.3 L1091.4,1024.9 L1091.1,1024.5 L1090.9,1024.1 L1090.6,1023.7 L1090.4,1023.3 L1090.1,1022.9 L1089.9,1022.5 L1089.7,1022.1 L1089.4,1021.7 L1089.2,1021.3 L1089.0,1020.9 L1088.7,1020.5 L1088.5,1020.1 L1088.3,1019.7 L1088.1,1019.3 L1087.9,1018.9 L1087.7,1018.5 L1087.5,1018.0 L1087.3,1017.6 L1087.1,1017.2 L1086.9,1016.8 L1086.7,1016.4 L1086.5,1015.9 L1086.4,1015.5 L1086.2,1015.1 L1086.0,1014.6 L1085.8,1014.2 L1085.7,1013.8 L1085.5,1013.3 L1085.4,1012.9 L1085.2,1012.5 L1085.0,1012.0 L1084.9,1011.6 L1084.8,1011.1 L1084.6,1010.7 L1084.5,1010.2 L1084.4,1009.8 L1084.2,1009.3 L1084.1,1008.9 L1084.0,1008.4 L1083.9,1008.0 L1083.8,1007.5 L1083.6,1007.1 L1083.5,1006.6 L1083.4,1006.2 L1083.3,1005.7 L1083.3,1005.3 L1083.2,1004.8 L1083.1,1004.3 L1083.0,1003.9 L1082.9,1003.4 L1082.9,1003.0 L1082.8,1002.5 L1082.7,1002.0 L1082.7,1001.6 L1082.6,1001.1 L1082.5,1000.7 L1082.5,1000.2 L1082.5,999.7 L1082.4,999.3 L1082.4,998.8 L1082.3,998.3 L1082.3,997.9 L1082.3,997.4 L1082.3,996.9 L1082.3,996.5 L1082.2,996.0 L1082.2,995.5 L1082.2,995.1 L1082.2,994.6 L1082.2,994.1 L1082.2,993.7 L1082.3,993.2 L1082.3,992.7 L1082.3,992.3 L1082.3,991.8 L1082.4,991.3 L1082.4,990.9 L1082.4,990.4 L1082.5,989.9 L1082.5,989.5 L1082.6,989.0 L1082.6,988.5 L1082.7,988.1 L1082.7,987.6 L1082.8,987.2 L1082.9,986.7 L1082.9,986.2 L1083.0,985.8 L1083.1,985.3 L1083.2,984.8 L1083.3,984.4 L1083.4,983.9 L1083.5,983.5 L1083.6,983.0 L1083.7,982.6 L1083.8,982.1 L1083.9,981.7 L1084.0,981.2 L1084.1,980.8 L1084.3,980.3 L1084.4,979.9 L1084.5,979.4 L1084.7,979.0 L1084.8,978.5 L1084.9,978.1 L1085.1,977.6 L1085.2,977.2 L1085.4,976.8 L1085.6,976.3 L1085.7,975.9 L1085.9,975.5 L1086.1,975.0 L1086.2,974.6 L1086.4,974.2 L1086.6,973.7 L1086.8,973.3 L1087.0,972.9 L1087.2,972.5 L1087.4,972.0 L1087.6,971.6 L1087.8,971.2 L1088.0,970.8 L1088.2,970.4 L1088.4,970.0 L1088.7,969.6 L1088.9,969.2 L1089.1,968.7 L1089.3,968.3 L1089.6,967.9 L1089.8,967.5 L1090.1,967.1 L1090.3,966.8 L1090.5,966.4 L1090.8,966.0 L1091.1,965.6 L1091.3,965.2 L1091.6,964.8 L1091.8,964.4 L1092.1,964.1 L1092.4,963.7 L1092.7,963.3 L1092.9,962.9 L1093.2,962.6 L1093.5,962.2 L1093.8,961.8 L1094.1,961.5 L1094.4,961.1 L1094.7,960.8 L1095.0,960.4 L1095.3,960.1 L1095.6,959.7 L1095.9,959.4 L1096.2,959.0 L1096.5,958.7 L1096.9,958.4 L1097.2,958.0 L1097.5,957.7 L1097.8,957.4 L1098.2,957.1 L1098.5,956.7 L1098.9,956.4 L1099.2,956.1 L1099.5,955.8 L1099.9,955.5 L1100.2,955.2 L1100.6,954.9 L1100.9,954.6 L1101.3,954.3 L1101.7,954.0 L1102.0,953.7 L1102.4,953.4 L1102.7,953.2 L1103.1,952.9 L1103.5,952.6 L1103.9,952.3 L1104.2,952.1 L1104.6,951.8 L1105.0,951.5 L1105.4,951.3 L1105.8,951.0 L1106.2,950.8 L1106.5,950.5 L1106.9,950.3 L1107.3,950.1 L1107.7,949.8 L1108.1,949.6 L1108.5,949.4 L1108.9,949.1 L1109.3,948.9 L1109.7,948.7 L1110.2,948.5 L1110.6,948.3 L1111.0,948.1 L1111.4,947.9 L1111.8,947.7 L1112.2,947.5 L1112.7,947.3 L1113.1,947.1 L1113.5,946.9 L1113.9,946.7 L1114.3,946.6 L1114.8,946.4 L1115.2,946.2 L1115.6,946.1 L1116.1,945.9 L1116.5,945.8 L1116.9,945.6 L1117.4,945.5 L1117.8,945.3 L1118.2,945.2 L1118.7,945.0 L1119.1,944.9 L1119.6,944.8 L1120.0,944.7 L1120.5,944.5 L1120.9,944.4 L1121.4,944.3 L1121.8,944.2 L1122.2,944.1 L1122.7,944.0 L1123.1,943.9 L1123.6,943.8 L1124.1,943.7 L1124.5,943.7 L1125.0,943.6 L1125.4,943.5 L1125.9,943.4 L1126.3,943.4 L1126.8,943.3 L1127.2,943.3 L1127.7,943.2 L1128.1,943.2 L1128.6,943.1 L1129.1,943.1 L1129.5,943.0 L1130.0,943.0 L1130.4,943.0 L1130.9,943.0 L1131.4,942.9 L1131.8,942.9 L1132.3,942.9 L1132.7,942.9 L1133.2,942.9 L1133.7,942.9 L1134.1,942.9 L1134.6,942.9 L1135.0,942.9 L1135.5,943.0 L1136.0,943.0 L1136.4,943.0 L1136.9,943.0 L1137.3,943.1 L1137.8,943.1 L1138.3,943.2 L1138.7,943.2 L1139.2,943.3 L1139.6,943.3 L1140.1,943.4 L1140.5,943.4 L1141.0,943.5 L1141.4,943.6 L1141.9,943.7 L1142.3,943.7 L1142.8,943.8 L1143.3,943.9 L1143.7,944.0 L1144.2,944.1 L1144.6,944.2 L1145.0,944.3 L1145.5,944.4 L1145.9,944.5 L1146.4,944.7 L1146.8,944.8 L1147.3,944.9 L1147.7,945.0 L1148.2,945.2 L1148.6,945.3 L1149.0,945.5 L1149.5,945.6 L1149.9,945.8 L1150.3,945.9 L1150.8,946.1 L1151.2,946.2 L1151.6,946.4 L1152.1,946.6 L1152.5,946.7 L1152.9,946.9 L1153.3,947.1 L1153.7,947.3 L1154.2,947.5 L1154.6,947.7 L1155.0,947.9 L1155.4,948.1 L1155.8,948.3 L1156.2,948.5 L1156.7,948.7 L1157.1,948.9 L1157.5,949.1 L1157.9,949.4 L1158.3,949.6 L1158.7,949.8 L1159.1,950.1 L1159.5,950.3 L1159.9,950.5 L1160.2,950.8 L1160.6,951.0 L1161.0,951.3 L1161.4,951.5 L1161.8,951.8 L1162.2,952.1 L1162.5,952.3 L1162.9,952.6 L1163.3,952.9 L1163.7,953.2 L1164.0,953.4 L1164.4,953.7 L1164.7,954.0 L1165.1,954.3 L1165.5,954.6 L1165.8,954.9 L1166.2,955.2 L1166.5,955.5 L1166.9,955.8 L1167.2,956.1 L1167.5,956.4 L1167.9,956.7 L1168.2,957.1 L1168.6,957.4 L1168.9,957.7 L1169.2,958.0 L1169.5,958.4 L1169.9,958.7 L1170.2,959.0 L1170.5,959.4 L1170.8,959.7 L1171.1,960.1 L1171.4,960.4 L1171.7,960.8 L1172.0,961.1 L1172.3,961.5 L1172.6,961.8 L1172.9,962.2 L1173.2,962.6 L1173.5,962.9 L1173.7,963.3 L1174.0,963.7 L1174.3,964.1 L1174.6,964.4 L1174.8,964.8 L1175.1,965.2 L1175.3,965.6 L1175.6,966.0 L1175.9,966.4 L1176.1,966.8 L1176.3,967.1 L1176.6,967.5 L1176.8,967.9 L1177.1,968.3 L1177.3,968.7 L1177.5,969.2 L1177.7,969.6 L1178.0,970.0 L1178.2,970.4 L1178.4,970.8 L1178.6,971.2 L1178.8,971.6 L1179.0,972.0 L1179.2,972.5 L1179.4,972.9 L1179.6,973.3 L1179.8,973.7 L1180.0,974.2 L1180.2,974.6 L1180.3,975.0 L1180.5,975.5 L1180.7,975.9 L1180.8,976.3 L1181.0,976.8 L1181.2,977.2 L1181.3,977.6 L1181.5,978.1 L1181.6,978.5 L1181.7,979.0 L1181.9,979.4 L1182.0,979.9 L1182.1,980.3 L1182.3,980.8 L1182.4,981.2 L1182.5,981.7 L1182.6,982.1 L1182.7,982.6 L1182.8,983.0 L1182.9,983.5 L1183.0,983.9 L1183.1,984.4 L1183.2,984.8 L1183.3,985.3 L1183.4,985.8 L1183.5,986.2 L1183.5,986.7 L1183.6,987.2 L1183.7,987.6 L1183.7,988.1 L1183.8,988.5 L1183.8,989.0 L1183.9,989.5 L1183.9,989.9 L1184.0,990.4 L1184.0,990.9 L1184.0,991.3 L1184.1,991.8 L1184.1,992.3 L1184.1,992.7 L1184.1,993.2 L1184.2,993.7 L1184.2,994.1 L1184.2,994.6 L1184.2,995.1 L1184.2,995.5 L1184.2,996.0 L1184.1,996.5 L1184.1,996.9 L1184.1,997.4 L1184.1,997.9 L1184.1,998.3 L1184.0,998.8 L1184.0,999.3 L1183.9,999.7 L1183.9,1000.2 L1183.9,1000.7 L1183.8,1001.1 L1183.7,1001.6 L1183.7,1002.0 L1183.6,1002.5 L1183.5,1003.0 L1183.5,1003.4 L1183.4,1003.9 L1183.3,1004.3 L1183.2,1004.8 L1183.1,1005.3 L1183.1,1005.7 L1183.0,1006.2 L1182.9,1006.6 L1182.8,1007.1 L1182.6,1007.5 L1182.5,1008.0 L1182.4,1008.4 L1182.3,1008.9 L1182.2,1009.3 L1182.0,1009.8 L1181.9,1010.2 L1181.8,1010.7 L1181.6,1011.1 L1181.5,1011.6 L1181.4,1012.0 L1181.2,1012.5 L1181.0,1012.9 L1180.9,1013.3 L1180.7,1013.8 L1180.6,1014.2 L1180.4,1014.6 L1180.2,1015.1 L1180.0,1015.5 L1179.9,1015.9 L1179.7,1016.4 L1179.5,1016.8 L1179.3,1017.2 L1179.1,1017.6 L1178.9,1018.0 L1178.7,1018.5 L1178.5,1018.9 L1178.3,1019.3 L1178.1,1019.7 L1177.9,1020.1 L1177.7,1020.5 L1177.4,1020.9 L1177.2,1021.3 L1177.0,1021.7 L1176.7,1022.1 L1176.5,1022.5 L1176.3,1022.9 L1176.0,1023.3 L1175.8,1023.7 L1175.5,1024.1 L1175.3,1024.5 L1175.0,1024.9 L1174.8,1025.3 L1174.5,1025.6 L1174.2,1026.0 L1174.0,1026.4 L1173.7,1026.8 L1173.4,1027.1 L1173.2,1027.5 L1172.9,1027.9 L1172.6,1028.2 L1172.3,1028.6 L1172.0,1028.9 L1171.7,1029.3 L1171.4,1029.6 L1171.1,1030.0 L1170.8,1030.3 L1170.5,1030.7 L1170.2,1031.0 L1169.9,1031.4 L1169.6,1031.7 L1169.3,1032.0 L1169.0,1032.4 L1168.7,1032.7 L1168.4,1033.0 L1168.0,1033.3 L1167.7,1033.7 L1167.4,1034.0 L1167.1,1034.3 L1166.7,1034.6 L1166.4,1034.9 L1166.0,1035.2 L1165.7,1035.5 L1165.4,1035.8 L1165.0,1036.1 L1164.7,1036.4 L1164.3,1036.7 L1164.0,1036.9 L1163.6,1037.2 L1163.3,1037.5 L1162.9,1037.8 L1162.6,1038.0 L1162.2,1038.3 L1161.8,1038.6 L1161.5,1038.8 L1161.1,1039.1 L1160.7,1039.4 L1160.4,1039.6 L1160.0,1039.8 L1159.6,1040.1 L1159.3,1040.3 L1158.9,1040.6 L1158.5,1040.8 L1158.1,1041.0 L1157.8,1041.3 L1157.4,1041.5 L1157.0,1041.7 L1156.6,1041.9 L1156.2,1042.1 L1155.8,1042.3 L1155.4,1042.5 L1155.1,1042.7 L1154.7,1042.9 L1154.3,1043.1 L1153.9,1043.3 L1153.5,1043.5 L1153.1,1043.7 L1152.7,1043.9 L1152.3,1044.1 L1151.9,1044.2 L1151.5,1044.4 L1151.1,1044.6 L1150.7,1044.7 L1150.3,1044.9 L1149.9,1045.0 L1149.5,1045.2 L1149.1,1045.3 L1148.7,1045.5 L1148.3,1045.6 L1147.9,1045.8 L1147.5,1045.9 L1147.1,1046.0 L1146.7,1046.2 L1146.3,1046.3 L1145.9,1046.4 L1145.5,1046.5 L1145.1,1046.6 L1144.7,1046.7 L1144.3,1046.8 L1143.9,1046.9 L1143.5,1047.0 L1143.1,1047.1 L1142.7,1047.2 L1142.3,1047.3 L1141.9,1047.4 L1141.5,1047.5 L1141.2,1047.5 L1140.8,1047.6 L1140.4,1047.7 L1140.0,1047.7 L1139.6,1047.8 L1139.2,1047.9 L1138.8,1047.9 L1138.4,1048.0 L1138.1,1048.0 L1137.7,1048.0 L1137.3,1048.1 L1136.9,1048.1 L1136.6,1048.2 L1136.2,1048.2 L1135.8,1048.2 L1135.5,1048.2 L1135.1,1048.2 L1134.8,1048.3 L1134.4,1048.3 L1134.1,1048.3 L1133.8,1048.3 L1133.5,1048.3 L1133.2,1048.3" stroke="#17963a" stroke-width="2.2" fill="none" stroke-linejoin="round"/>
<path d="M1133.2,1048.3 L1133.1,1048.3 L1133.0,1048.3 L1132.8,1048.3 L1132.6,1048.3 L1132.4,1048.3 L1132.2,1048.3 L1131.9,1048.3 L1131.7,1048.2 L1131.4,1048.2 L1131.1,1048.2 L1130.8,1048.2 L1130.5,1048.2 L1130.2,1048.1 L1129.9,1048.1 L1129.5,1048.1 L1129.2,1048.0 L1128.8,1048.0 L1128.5,1047.9 L1128.1,1047.9 L1127.7,1047.8 L1127.3,1047.8 L1126.9,1047.7 L1126.5,1047.6 L1126.1,1047.6 L1125.7,1047.5 L1125.3,1047.4 L1124.9,1047.3 L1124.5,1047.2 L1124.0,1047.1 L1123.6,1047.0 L1123.2,1046.9 L1122.7,1046.8 L1122.3,1046.7 L1121.8,1046.6 L1121.3,1046.5 L1120.9,1046.3 L1120.4,1046.2 L1119.9,1046.1 L1119.5,1045.9 L1119.0,1045.8 L1118.5,1045.6 L1118.0,1045.5 L1117.5,1045.3 L1117.0,1045.2 L1116.5,1045.0 L1116.0,1044.8 L1115.5,1044.6 L1115.0,1044.4 L1114.5,1044.2 L1114.0,1044.0 L1113.5,1043.8 L1113.0,1043.6 L1112.5,1043.4 L1112.0,1043.2 L1111.4,1043.0 L1110.9,1042.7 L1110.4,1042.5 L1109.9,1042.3 L1109.3,1042.0 L1108.8,1041.8 L1108.3,1041.5 L1107.8,1041.2 L1107.2,1041.0 L1106.7,1040.7 L1106.2,1040.4 L1105.6,1040.1 L1105.1,1039.8 L1104.6,1039.5 L1104.0,1039.2 L1103.5,1038.9 L1103.0,1038.6 L1102.4,1038.3 L1101.9,1038.0 L1101.4,1037.6 L1100.8,1037.3 L1100.3,1037.0 L1099.8,1036.6 L1099.2,1036.3 L1098.7,1035.9 L1098.2,1035.5 L1097.6,1035.2 L1097.1,1034.8 L1096.6,1034.4 L1096.0,1034.0 L1095.5,1033.6 L1095.0,1033.2 L1094.4,1032.8 L1093.9,1032.4 L1093.4,1032.0 L1092.9,1031.6 L1092.4,1031.2 L1091.8,1030.7 L1091.3,1030.3 L1090.8,1029.9 L1090.3,1029.4 L1089.8,1029.0 L1089.3,1028.5 L1088.8,1028.0 L1088.2,1027.6 L1087.7,1027.1 L1087.2,1026.6 L1086.7,1026.1 L1086.2,1025.7 L1085.7,1025.2 L1085.3,1024.7 L1084.8,1024.2 L1084.3,1023.6 L1083.8,1023.1 L1083.3,1022.6 L1082.8,1022.1 L1082.4,1021.6 L1081.9,1021.0 L1081.4,1020.5 L1081.0,1019.9 L1080.5,1019.4 L1080.0,1018.8 L1079.6,1018.3 L1079.1,1017.7 L1078.7,1017.1 L1078.2,1016.6 L1077.8,1016.0 L1077.4,1015.4 L1076.9,1014.8 L1076.5,1014.2 L1076.1,1013.6 L1075.6,1013.0 L1075.2,1012.4 L1074.8,1011.8 L1074.4,1011.2 L1074.0,1010.6 L1073.6,1010.0 L1073.2,1009.3 L1072.8,1008.7 L1072.4,1008.1 L1072.0,1007.4 L1071.7,1006.8 L1071.3,1006.1 L1070.9,1005.5 L1070.5,1004.8 L1070.2,1004.2 L1069.8,1003.5 L1069.5,1002.9 L1069.1,1002.2 L1068.8,1001.5 L1068.5,1000.8 L1068.1,1000.2 L1067.8,999.5 L1067.5,998.8 L1067.2,998.1 L1066.9,997.4 L1066.6,996.7 L1066.3,996.0 L1066.0,995.3 L1065.7,994.6 L1065.4,993.9 L1065.1,993.2 L1064.9,992.5 L1064.6,991.7 L1064.3,991.0 L1064.1,990.3 L1063.8,989.6 L1063.6,988.9 L1063.4,988.1 L1063.1,987.4 L1062.9,986.7 L1062.7,985.9 L1062.5,985.2 L1062.3,984.4 L1062.1,983.7 L1061.9,982.9 L1061.7,982.2 L1061.5,981.5 L1061.3,980.7 L1061.2,979.9 L1061.0,979.2 L1060.9,978.4 L1060.7,977.7 L1060.6,976.9 L1060.4,976.2 L1060.3,975.4 L1060.2,974.6 L1060.0,973.9 L1059.9,973.1 L1059.8,972.3 L1059.7,971.6 L1059.6,970.8 L1059.6,970.0 L1059.5,969.2 L1059.4,968.5 L1059.3,967.7 L1059.3,966.9 L1059.2,966.2 L1059.2,965.4 L1059.2,964.6 L1059.1,963.8 L1059.1,963.1 L1059.1,962.3 L1059.1,961.5 L1059.1,960.7 L1059.1,959.9 L1059.1,959.2 L1059.1,958.4 L1059.1,957.6 L1059.1,956.8 L1059.2,956.1 L1059.2,955.3 L1059.3,954.5 L1059.3,953.7 L1059.4,953.0 L1059.5,952.2 L1059.5,951.4 L1059.6,950.7 L1059.7,949.9 L1059.8,949.1 L1059.9,948.3 L1060.0,947.6 L1060.1,946.8 L1060.3,946.1 L1060.4,945.3 L1060.5,944.5 L1060.7,943.8 L1060.8,943.0 L1061.0,942.2 L1061.2,941.5 L1061.3,940.7 L1061.5,940.0 L1061.7,939.2 L1061.9,938.5 L1062.1,937.7 L1062.3,937.0 L1062.5,936.3 L1062.7,935.5 L1063.0,934.8 L1063.2,934.1 L1063.4,933.3 L1063.7,932.6 L1063.9,931.9 L1064.2,931.1 L1064.5,930.4 L1064.7,929.7 L1065.0,929.0 L1065.3,928.3 L1065.6,927.6 L1065.9,926.9 L1066.2,926.2 L1066.5,925.5 L1066.8,924.8 L1067.1,924.1 L1067.5,923.4 L1067.8,922.7 L1068.2,922.0 L1068.5,921.3 L1068.9,920.6 L1069.2,920.0 L1069.6,919.3 L1070.0,918.6 L1070.3,918.0 L1070.7,917.3 L1071.1,916.7 L1071.5,916.0 L1071.9,915.4 L1072.3,914.7 L1072.8,914.1 L1073.2,913.5 L1073.6,912.8 L1074.0,912.2 L1074.5,911.6 L1074.9,911.0 L1075.4,910.4 L1075.8,909.8 L1076.3,909.2 L1076.8,908.6 L1077.2,908.0 L1077.7,907.4 L1078.2,906.8 L1078.7,906.3 L1079.2,905.7 L1079.7,905.1 L1080.2,904.6 L1080.7,904.0 L1081.2,903.5 L1081.7,902.9 L1082.3,902.4 L1082.8,901.9 L1083.3,901.3 L1083.9,900.8 L1084.4,900.3 L1085.0,899.8 L1085.5,899.3 L1086.1,898.8 L1086.6,898.3 L1087.2,897.8 L1087.8,897.4 L1088.3,896.9 L1088.9,896.4 L1089.5,896.0 L1090.1,895.5 L1090.7,895.1 L1091.3,894.6 L1091.9,894.2 L1092.5,893.7 L1093.1,893.3 L1093.7,892.9 L1094.4,892.5 L1095.0,892.1 L1095.6,891.7 L1096.2,891.3 L1096.9,890.9 L1097.5,890.5 L1098.1,890.2 L1098.8,889.8 L1099.4,889.5 L1100.1,889.1 L1100.7,888.8 L1101.4,888.4 L1102.1,888.1 L1102.7,887.8 L1103.4,887.5 L1104.1,887.1 L1104.7,886.8 L1105.4,886.5 L1106.1,886.3 L1106.8,886.0 L1107.4,885.7 L1108.1,885.4 L1108.8,885.2 L1109.5,884.9 L1110.2,884.7 L1110.9,884.4 L1111.6,884.2 L1112.3,884.0 L1113.0,883.8 L1113.7,883.6 L1114.4,883.4 L1115.1,883.2 L1115.8,883.0 L1116.5,882.8 L1117.2,882.6 L1118.0,882.5 L1118.7,882.3 L1119.4,882.2 L1120.1,882.0 L1120.8,881.9 L1121.6,881.8 L1122.3,881.7 L1123.0,881.5 L1123.7,881.4 L1124.5,881.4 L1125.2,881.3 L1125.9,881.2 L1126.6,881.1 L1127.4,881.0 L1128.1,881.0 L1128.8,880.9 L1129.5,880.9 L1130.3,880.9 L1131.0,880.8 L1131.7,880.8 L1132.5,880.8 L1133.2,880.8 L1133.9,880.8 L1134.7,880.8 L1135.4,880.8 L1136.1,880.9 L1136.9,880.9 L1137.6,880.9 L1138.3,881.0 L1139.0,881.0 L1139.8,881.1 L1140.5,881.2 L1141.2,881.3 L1141.9,881.4 L1142.7,881.4 L1143.4,881.5 L1144.1,881.7 L1144.8,881.8 L1145.6,881.9 L1146.3,882.0 L1147.0,882.2 L1147.7,882.3 L1148.4,882.5 L1149.2,882.6 L1149.9,882.8 L1150.6,883.0 L1151.3,883.2 L1152.0,883.4 L1152.7,883.6 L1153.4,883.8 L1154.1,884.0 L1154.8,884.2 L1155.5,884.4 L1156.2,884.7 L1156.9,884.9 L1157.6,885.2 L1158.3,885.4 L1159.0,885.7 L1159.6,886.0 L1160.3,886.3 L1161.0,886.5 L1161.7,886.8 L1162.3,887.1 L1163.0,887.5 L1163.7,887.8 L1164.3,888.1 L1165.0,888.4 L1165.7,888.8 L1166.3,889.1 L1167.0,889.5 L1167.6,889.8 L1168.3,890.2 L1168.9,890.5 L1169.5,890.9 L1170.2,891.3 L1170.8,891.7 L1171.4,892.1 L1172.0,892.5 L1172.7,892.9 L1173.3,893.3 L1173.9,893.7 L1174.5,894.2 L1175.1,894.6 L1175.7,895.1 L1176.3,895.5 L1176.9,896.0 L1177.5,896.4 L1178.1,896.9 L1178.6,897.4 L1179.2,897.8 L1179.8,898.3 L1180.3,898.8 L1180.9,899.3 L1181.4,899.8 L1182.0,900.3 L1182.5,900.8 L1183.1,901.3 L1183.6,901.9 L1184.1,902.4 L1184.7,902.9 L1185.2,903.5 L1185.7,904.0 L1186.2,904.6 L1186.7,905.1 L1187.2,905.7 L1187.7,906.3 L1188.2,906.8 L1188.7,907.4 L1189.2,908.0 L1189.6,908.6 L1190.1,909.2 L1190.6,909.8 L1191.0,910.4 L1191.5,911.0 L1191.9,911.6 L1192.4,912.2 L1192.8,912.8 L1193.2,913.5 L1193.6,914.1 L1194.1,914.7 L1194.5,915.4 L1194.9,916.0 L1195.3,916.7 L1195.7,917.3 L1196.1,918.0 L1196.4,918.6 L1196.8,919.3 L1197.2,920.0 L1197.5,920.6 L1197.9,921.3 L1198.2,922.0 L1198.6,922.7 L1198.9,923.4 L1199.3,924.1 L1199.6,924.8 L1199.9,925.5 L1200.2,926.2 L1200.5,926.9 L1200.8,927.6 L1201.1,928.3 L1201.4,929.0 L1201.7,929.7 L1201.9,930.4 L1202.2,931.1 L1202.5,931.9 L1202.7,932.6 L1203.0,933.3 L1203.2,934.1 L1203.4,934.8 L1203.7,935.5 L1203.9,936.3 L1204.1,937.0 L1204.3,937.7 L1204.5,938.5 L1204.7,939.2 L1204.9,940.0 L1205.1,940.7 L1205.2,941.5 L1205.4,942.2 L1205.6,943.0 L1205.7,943.8 L1205.9,944.5 L1206.0,945.3 L1206.1,946.1 L1206.3,946.8 L1206.4,947.6 L1206.5,948.3 L1206.6,949.1 L1206.7,949.9 L1206.8,950.7 L1206.9,951.4 L1206.9,952.2 L1207.0,953.0 L1207.1,953.7 L1207.1,954.5 L1207.2,955.3 L1207.2,956.1 L1207.3,956.8 L1207.3,957.6 L1207.3,958.4 L1207.3,959.2 L1207.3,959.9 L1207.3,960.7 L1207.3,961.5 L1207.3,962.3 L1207.3,963.1 L1207.3,963.8 L1207.2,964.6 L1207.2,965.4 L1207.2,966.2 L1207.1,966.9 L1207.1,967.7 L1207.0,968.5 L1206.9,969.2 L1206.8,970.0 L1206.8,970.8 L1206.7,971.6 L1206.6,972.3 L1206.5,973.1 L1206.4,973.9 L1206.2,974.6 L1206.1,975.4 L1206.0,976.2 L1205.8,976.9 L1205.7,977.7 L1205.5,978.4 L1205.4,979.2 L1205.2,979.9 L1205.1,980.7 L1204.9,981.5 L1204.7,982.2 L1204.5,982.9 L1204.3,983.7 L1204.1,984.4 L1203.9,985.2 L1203.7,985.9 L1203.5,986.7 L1203.3,987.4 L1203.0,988.1 L1202.8,988.9 L1202.6,989.6 L1202.3,990.3 L1202.1,991.0 L1201.8,991.7 L1201.5,992.5 L1201.3,993.2 L1201.0,993.9 L1200.7,994.6 L1200.4,995.3 L1200.1,996.0 L1199.8,996.7 L1199.5,997.4 L1199.2,998.1 L1198.9,998.8 L1198.6,999.5 L1198.3,1000.2 L1197.9,1000.8 L1197.6,1001.5 L1197.3,1002.2 L1196.9,1002.9 L1196.6,1003.5 L1196.2,1004.2 L1195.9,1004.8 L1195.5,1005.5 L1195.1,1006.1 L1194.7,1006.8 L1194.4,1007.4 L1194.0,1008.1 L1193.6,1008.7 L1193.2,1009.3 L1192.8,1010.0 L1192.4,1010.6 L1192.0,1011.2 L1191.6,1011.8 L1191.2,1012.4 L1190.8,1013.0 L1190.3,1013.6 L1189.9,1014.2 L1189.5,1014.8 L1189.0,1015.4 L1188.6,1016.0 L1188.2,1016.6 L1187.7,1017.1 L1187.3,1017.7 L1186.8,1018.3 L1186.4,1018.8 L1185.9,1019.4 L1185.4,1019.9 L1185.0,1020.5 L1184.5,1021.0 L1184.0,1021.6 L1183.6,1022.1 L1183.1,1022.6 L1182.6,1023.1 L1182.1,1023.6 L1181.6,1024.2 L1181.1,1024.7 L1180.7,1025.2 L1180.2,1025.7 L1179.7,1026.1 L1179.2,1026.6 L1178.7,1027.1 L1178.2,1027.6 L1177.6,1028.0 L1177.1,1028.5 L1176.6,1029.0 L1176.1,1029.4 L1175.6,1029.9 L1175.1,1030.3 L1174.6,1030.7 L1174.0,1031.2 L1173.5,1031.6 L1173.0,1032.0 L1172.5,1032.4 L1172.0,1032.8 L1171.4,1033.2 L1170.9,1033.6 L1170.4,1034.0 L1169.8,1034.4 L1169.3,1034.8 L1168.8,1035.2 L1168.2,1035.5 L1167.7,1035.9 L1167.2,1036.3 L1166.6,1036.6 L1166.1,1037.0 L1165.6,1037.3 L1165.0,1037.6 L1164.5,1038.0 L1164.0,1038.3 L1163.4,1038.6 L1162.9,1038.9 L1162.4,1039.2 L1161.8,1039.5 L1161.3,1039.8 L1160.8,1040.1 L1160.2,1040.4 L1159.7,1040.7 L1159.2,1041.0 L1158.6,1041.2 L1158.1,1041.5 L1157.6,1041.8 L1157.1,1042.0 L1156.5,1042.3 L1156.0,1042.5 L1155.5,1042.7 L1155.0,1043.0 L1154.4,1043.2 L1153.9,1043.4 L1153.4,1043.6 L1152.9,1043.8 L1152.4,1044.0 L1151.9,1044.2 L1151.4,1044.4 L1150.9,1044.6 L1150.4,1044.8 L1149.9,1045.0 L1149.4,1045.2 L1148.9,1045.3 L1148.4,1045.5 L1147.9,1045.6 L1147.4,1045.8 L1146.9,1045.9 L1146.5,1046.1 L1146.0,1046.2 L1145.5,1046.3 L1145.1,1046.5 L1144.6,1046.6 L1144.1,1046.7 L1143.7,1046.8 L1143.2,1046.9 L1142.8,1047.0 L1142.4,1047.1 L1141.9,1047.2 L1141.5,1047.3 L1141.1,1047.4 L1140.7,1047.5 L1140.3,1047.6 L1139.9,1047.6 L1139.5,1047.7 L1139.1,1047.8 L1138.7,1047.8 L1138.3,1047.9 L1137.9,1047.9 L1137.6,1048.0 L1137.2,1048.0 L1136.9,1048.1 L1136.5,1048.1 L1136.2,1048.1 L1135.9,1048.2 L1135.6,1048.2 L1135.3,1048.2 L1135.0,1048.2 L1134.7,1048.2 L1134.5,1048.3 L1134.2,1048.3 L1134.0,1048.3 L1133.8,1048.3 L1133.6,1048.3 L1133.4,1048.3 L1133.3,1048.3 L1133.2,1048.3" stroke="#2f4fb0" stroke-width="2.2" fill="none" stroke-linejoin="round"/>
<path d="M1133.2,1048.3 L1133.1,1048.3 L1132.8,1048.3 L1132.6,1048.3 L1132.2,1048.3 L1131.9,1048.3 L1131.6,1048.3 L1131.2,1048.2 L1130.8,1048.2 L1130.4,1048.2 L1129.9,1048.2 L1129.5,1048.1 L1129.0,1048.1 L1128.5,1048.0 L1128.0,1048.0 L1127.5,1047.9 L1127.0,1047.9 L1126.5,1047.8 L1126.0,1047.7 L1125.4,1047.7 L1124.9,1047.6 L1124.3,1047.5 L1123.7,1047.4 L1123.1,1047.3 L1122.6,1047.2 L1122.0,1047.1 L1121.4,1047.0 L1120.8,1046.8 L1120.1,1046.7 L1119.5,1046.6 L1118.9,1046.4 L1118.2,1046.3 L1117.6,1046.1 L1117.0,1045.9 L1116.3,1045.8 L1115.7,1045.6 L1115.0,1045.4 L1114.3,1045.2 L1113.7,1045.0 L1113.0,1044.8 L1112.3,1044.6 L1111.6,1044.4 L1110.9,1044.2 L1110.2,1043.9 L1109.5,1043.7 L1108.8,1043.5 L1108.1,1043.2 L1107.4,1042.9 L1106.7,1042.7 L1106.0,1042.4 L1105.3,1042.1 L1104.6,1041.8 L1103.9,1041.5 L1103.1,1041.2 L1102.4,1040.9 L1101.7,1040.6 L1101.0,1040.3 L1100.2,1039.9 L1099.5,1039.6 L1098.8,1039.2 L1098.1,1038.9 L1097.3,1038.5 L1096.6,1038.1 L1095.9,1037.8 L1095.1,1037.4 L1094.4,1037.0 L1093.7,1036.6 L1092.9,1036.2 L1092.2,1035.8 L1091.4,1035.3 L1090.7,1034.9 L1090.0,1034.5 L1089.2,1034.0 L1088.5,1033.6 L1087.8,1033.1 L1087.0,1032.6 L1086.3,1032.2 L1085.6,1031.7 L1084.8,1031.2 L1084.1,1030.7 L1083.4,1030.2 L1082.7,1029.7 L1081.9,1029.1 L1081.2,1028.6 L1080.5,1028.1 L1079.8,1027.5 L1079.1,1027.0 L1078.3,1026.4 L1077.6,1025.8 L1076.9,1025.3 L1076.2,1024.7 L1075.5,1024.1 L1074.8,1023.5 L1074.1,1022.9 L1073.4,1022.3 L1072.7,1021.7 L1072.0,1021.1 L1071.3,1020.4 L1070.6,1019.8 L1070.0,1019.1 L1069.3,1018.5 L1068.6,1017.8 L1067.9,1017.2 L1067.3,1016.5 L1066.6,1015.8 L1065.9,1015.1 L1065.3,1014.4 L1064.6,1013.7 L1064.0,1013.0 L1063.3,1012.3 L1062.7,1011.6 L1062.1,1010.9 L1061.4,1010.1 L1060.8,1009.4 L1060.2,1008.7 L1059.6,1007.9 L1059.0,1007.1 L1058.3,1006.4 L1057.7,1005.6 L1057.1,1004.8 L1056.6,1004.0 L1056.0,1003.3 L1055.4,1002.5 L1054.8,1001.7 L1054.2,1000.9 L1053.7,1000.0 L1053.1,999.2 L1052.6,998.4 L1052.0,997.6 L1051.5,996.7 L1050.9,995.9 L1050.4,995.1 L1049.9,994.2 L1049.4,993.3 L1048.9,992.5 L1048.4,991.6 L1047.9,990.7 L1047.4,989.9 L1046.9,989.0 L1046.4,988.1 L1045.9,987.2 L1045.5,986.3 L1045.0,985.4 L1044.6,984.5 L1044.1,983.6 L1043.7,982.7 L1043.3,981.7 L1042.8,980.8 L1042.4,979.9 L1042.0,979.0 L1041.6,978.0 L1041.2,977.1 L1040.8,976.1 L1040.5,975.2 L1040.1,974.2 L1039.7,973.3 L1039.4,972.3 L1039.0,971.4 L1038.7,970.4 L1038.4,969.4 L1038.0,968.4 L1037.7,967.5 L1037.4,966.5 L1037.1,965.5 L1036.8,964.5 L1036.5,963.5 L1036.3,962.5 L1036.0,961.5 L1035.7,960.5 L1035.5,959.5 L1035.2,958.5 L1035.0,957.5 L1034.8,956.5 L1034.6,955.5 L1034.4,954.5 L1034.2,953.5 L1034.0,952.5 L1033.8,951.5 L1033.6,950.4 L1033.4,949.4 L1033.3,948.4 L1033.1,947.4 L1033.0,946.3 L1032.9,945.3 L1032.7,944.3 L1032.6,943.2 L1032.5,942.2 L1032.4,941.2 L1032.3,940.1 L1032.3,939.1 L1032.2,938.1 L1032.1,937.0 L1032.1,936.0 L1032.0,935.0 L1032.0,933.9 L1032.0,932.9 L1032.0,931.9 L1032.0,930.8 L1032.0,929.8 L1032.0,928.7 L1032.0,927.7 L1032.0,926.7 L1032.1,925.6 L1032.1,924.6 L1032.2,923.6 L1032.3,922.5 L1032.3,921.5 L1032.4,920.5 L1032.5,919.4 L1032.6,918.4 L1032.7,917.4 L1032.8,916.3 L1033.0,915.3 L1033.1,914.3 L1033.3,913.2 L1033.4,912.2 L1033.6,911.2 L1033.8,910.2 L1034.0,909.2 L1034.1,908.1 L1034.4,907.1 L1034.6,906.1 L1034.8,905.1 L1035.0,904.1 L1035.3,903.1 L1035.5,902.1 L1035.8,901.1 L1036.0,900.1 L1036.3,899.1 L1036.6,898.1 L1036.9,897.1 L1037.2,896.1 L1037.5,895.1 L1037.8,894.2 L1038.1,893.2 L1038.5,892.2 L1038.8,891.2 L1039.2,890.3 L1039.6,889.3 L1039.9,888.4 L1040.3,887.4 L1040.7,886.5 L1041.1,885.5 L1041.5,884.6 L1041.9,883.6 L1042.3,882.7 L1042.8,881.8 L1043.2,880.8 L1043.7,879.9 L1044.1,879.0 L1044.6,878.1 L1045.1,877.2 L1045.6,876.3 L1046.0,875.4 L1046.5,874.5 L1047.1,873.6 L1047.6,872.7 L1048.1,871.9 L1048.6,871.0 L1049.2,870.1 L1049.7,869.3 L1050.3,868.4 L1050.8,867.6 L1051.4,866.7 L1052.0,865.9 L1052.6,865.1 L1053.2,864.2 L1053.8,863.4 L1054.4,862.6 L1055.0,861.8 L1055.6,861.0 L1056.2,860.2 L1056.9,859.4 L1057.5,858.6 L1058.2,857.9 L1058.8,857.1 L1059.5,856.3 L1060.2,855.6 L1060.9,854.8 L1061.6,854.1 L1062.3,853.4 L1063.0,852.7 L1063.7,851.9 L1064.4,851.2 L1065.1,850.5 L1065.8,849.8 L1066.6,849.1 L1067.3,848.5 L1068.1,847.8 L1068.8,847.1 L1069.6,846.5 L1070.3,845.8 L1071.1,845.2 L1071.9,844.6 L1072.7,843.9 L1073.5,843.3 L1074.2,842.7 L1075.0,842.1 L1075.9,841.5 L1076.7,840.9 L1077.5,840.4 L1078.3,839.8 L1079.1,839.2 L1080.0,838.7 L1080.8,838.1 L1081.6,837.6 L1082.5,837.1 L1083.3,836.6 L1084.2,836.1 L1085.1,835.6 L1085.9,835.1 L1086.8,834.6 L1087.7,834.1 L1088.6,833.7 L1089.4,833.2 L1090.3,832.8 L1091.2,832.3 L1092.1,831.9 L1093.0,831.5 L1093.9,831.1 L1094.8,830.7 L1095.7,830.3 L1096.7,829.9 L1097.6,829.5 L1098.5,829.2 L1099.4,828.8 L1100.3,828.5 L1101.3,828.1 L1102.2,827.8 L1103.2,827.5 L1104.1,827.2 L1105.0,826.9 L1106.0,826.6 L1106.9,826.4 L1107.9,826.1 L1108.8,825.8 L1109.8,825.6 L1110.8,825.4 L1111.7,825.1 L1112.7,824.9 L1113.6,824.7 L1114.6,824.5 L1115.6,824.3 L1116.5,824.2 L1117.5,824.0 L1118.5,823.8 L1119.5,823.7 L1120.4,823.6 L1121.4,823.4 L1122.4,823.3 L1123.4,823.2 L1124.4,823.1 L1125.3,823.0 L1126.3,822.9 L1127.3,822.9 L1128.3,822.8 L1129.3,822.8 L1130.2,822.7 L1131.2,822.7 L1132.2,822.7 L1133.2,822.7 L1134.2,822.7 L1135.2,822.7 L1136.2,822.7 L1137.1,822.8 L1138.1,822.8 L1139.1,822.9 L1140.1,822.9 L1141.1,823.0 L1142.0,823.1 L1143.0,823.2 L1144.0,823.3 L1145.0,823.4 L1146.0,823.6 L1146.9,823.7 L1147.9,823.8 L1148.9,824.0 L1149.9,824.2 L1150.8,824.3 L1151.8,824.5 L1152.8,824.7 L1153.7,824.9 L1154.7,825.1 L1155.6,825.4 L1156.6,825.6 L1157.6,825.8 L1158.5,826.1 L1159.5,826.4 L1160.4,826.6 L1161.4,826.9 L1162.3,827.2 L1163.2,827.5 L1164.2,827.8 L1165.1,828.1 L1166.1,828.5 L1167.0,828.8 L1167.9,829.2 L1168.8,829.5 L1169.7,829.9 L1170.7,830.3 L1171.6,830.7 L1172.5,831.1 L1173.4,831.5 L1174.3,831.9 L1175.2,832.3 L1176.1,832.8 L1177.0,833.2 L1177.8,833.7 L1178.7,834.1 L1179.6,834.6 L1180.5,835.1 L1181.3,835.6 L1182.2,836.1 L1183.1,836.6 L1183.9,837.1 L1184.8,837.6 L1185.6,838.1 L1186.4,838.7 L1187.3,839.2 L1188.1,839.8 L1188.9,840.4 L1189.7,840.9 L1190.5,841.5 L1191.4,842.1 L1192.2,842.7 L1192.9,843.3 L1193.7,843.9 L1194.5,844.6 L1195.3,845.2 L1196.1,845.8 L1196.8,846.5 L1197.6,847.1 L1198.3,847.8 L1199.1,848.5 L1199.8,849.1 L1200.6,849.8 L1201.3,850.5 L1202.0,851.2 L1202.7,851.9 L1203.4,852.7 L1204.1,853.4 L1204.8,854.1 L1205.5,854.8 L1206.2,855.6 L1206.9,856.3 L1207.6,857.1 L1208.2,857.9 L1208.9,858.6 L1209.5,859.4 L1210.2,860.2 L1210.8,861.0 L1211.4,861.8 L1212.0,862.6 L1212.6,863.4 L1213.2,864.2 L1213.8,865.1 L1214.4,865.9 L1215.0,866.7 L1215.6,867.6 L1216.1,868.4 L1216.7,869.3 L1217.2,870.1 L1217.8,871.0 L1218.3,871.9 L1218.8,872.7 L1219.3,873.6 L1219.9,874.5 L1220.4,875.4 L1220.8,876.3 L1221.3,877.2 L1221.8,878.1 L1222.3,879.0 L1222.7,879.9 L1223.2,880.8 L1223.6,881.8 L1224.1,882.7 L1224.5,883.6 L1224.9,884.6 L1225.3,885.5 L1225.7,886.5 L1226.1,887.4 L1226.5,888.4 L1226.8,889.3 L1227.2,890.3 L1227.6,891.2 L1227.9,892.2 L1228.3,893.2 L1228.6,894.2 L1228.9,895.1 L1229.2,896.1 L1229.5,897.1 L1229.8,898.1 L1230.1,899.1 L1230.4,900.1 L1230.6,901.1 L1230.9,902.1 L1231.1,903.1 L1231.4,904.1 L1231.6,905.1 L1231.8,906.1 L1232.0,907.1 L1232.3,908.1 L1232.4,909.2 L1232.6,910.2 L1232.8,911.2 L1233.0,912.2 L1233.1,913.2 L1233.3,914.3 L1233.4,915.3 L1233.6,916.3 L1233.7,917.4 L1233.8,918.4 L1233.9,919.4 L1234.0,920.5 L1234.1,921.5 L1234.1,922.5 L1234.2,923.6 L1234.3,924.6 L1234.3,925.6 L1234.4,926.7 L1234.4,927.7 L1234.4,928.7 L1234.4,929.8 L1234.4,930.8 L1234.4,931.9 L1234.4,932.9 L1234.4,933.9 L1234.4,935.0 L1234.3,936.0 L1234.3,937.0 L1234.2,938.1 L1234.1,939.1 L1234.1,940.1 L1234.0,941.2 L1233.9,942.2 L1233.8,943.2 L1233.7,944.3 L1233.5,945.3 L1233.4,946.3 L1233.3,947.4 L1233.1,948.4 L1233.0,949.4 L1232.8,950.4 L1232.6,951.5 L1232.4,952.5 L1232.2,953.5 L1232.0,954.5 L1231.8,955.5 L1231.6,956.5 L1231.4,957.5 L1231.2,958.5 L1230.9,959.5 L1230.7,960.5 L1230.4,961.5 L1230.1,962.5 L1229.9,963.5 L1229.6,964.5 L1229.3,965.5 L1229.0,966.5 L1228.7,967.5 L1228.4,968.4 L1228.0,969.4 L1227.7,970.4 L1227.4,971.4 L1227.0,972.3 L1226.7,973.3 L1226.3,974.2 L1225.9,975.2 L1225.6,976.1 L1225.2,977.1 L1224.8,978.0 L1224.4,979.0 L1224.0,979.9 L1223.6,980.8 L1223.1,981.7 L1222.7,982.7 L1222.3,983.6 L1221.8,984.5 L1221.4,985.4 L1220.9,986.3 L1220.5,987.2 L1220.0,988.1 L1219.5,989.0 L1219.0,989.9 L1218.5,990.7 L1218.0,991.6 L1217.5,992.5 L1217.0,993.3 L1216.5,994.2 L1216.0,995.1 L1215.5,995.9 L1214.9,996.7 L1214.4,997.6 L1213.8,998.4 L1213.3,999.2 L1212.7,1000.0 L1212.2,1000.9 L1211.6,1001.7 L1211.0,1002.5 L1210.4,1003.3 L1209.8,1004.0 L1209.3,1004.8 L1208.7,1005.6 L1208.1,1006.4 L1207.4,1007.1 L1206.8,1007.9 L1206.2,1008.7 L1205.6,1009.4 L1205.0,1010.1 L1204.3,1010.9 L1203.7,1011.6 L1203.1,1012.3 L1202.4,1013.0 L1201.8,1013.7 L1201.1,1014.4 L1200.5,1015.1 L1199.8,1015.8 L1199.1,1016.5 L1198.5,1017.2 L1197.8,1017.8 L1197.1,1018.5 L1196.4,1019.1 L1195.8,1019.8 L1195.1,1020.4 L1194.4,1021.1 L1193.7,1021.7 L1193.0,1022.3 L1192.3,1022.9 L1191.6,1023.5 L1190.9,1024.1 L1190.2,1024.7 L1189.5,1025.3 L1188.8,1025.8 L1188.1,1026.4 L1187.3,1027.0 L1186.6,1027.5 L1185.9,1028.1 L1185.2,1028.6 L1184.5,1029.1 L1183.7,1029.7 L1183.0,1030.2 L1182.3,1030.7 L1181.6,1031.2 L1180.8,1031.7 L1180.1,1032.2 L1179.4,1032.6 L1178.6,1033.1 L1177.9,1033.6 L1177.2,1034.0 L1176.4,1034.5 L1175.7,1034.9 L1175.0,1035.3 L1174.2,1035.8 L1173.5,1036.2 L1172.7,1036.6 L1172.0,1037.0 L1171.3,1037.4 L1170.5,1037.8 L1169.8,1038.1 L1169.1,1038.5 L1168.3,1038.9 L1167.6,1039.2 L1166.9,1039.6 L1166.2,1039.9 L1165.4,1040.3 L1164.7,1040.6 L1164.0,1040.9 L1163.3,1041.2 L1162.5,1041.5 L1161.8,1041.8 L1161.1,1042.1 L1160.4,1042.4 L1159.7,1042.7 L1159.0,1042.9 L1158.3,1043.2 L1157.6,1043.5 L1156.9,1043.7 L1156.2,1043.9 L1155.5,1044.2 L1154.8,1044.4 L1154.1,1044.6 L1153.4,1044.8 L1152.7,1045.0 L1152.1,1045.2 L1151.4,1045.4 L1150.7,1045.6 L1150.1,1045.8 L1149.4,1045.9 L1148.8,1046.1 L1148.2,1046.3 L1147.5,1046.4 L1146.9,1046.6 L1146.3,1046.7 L1145.6,1046.8 L1145.0,1047.0 L1144.4,1047.1 L1143.8,1047.2 L1143.3,1047.3 L1142.7,1047.4 L1142.1,1047.5 L1141.5,1047.6 L1141.0,1047.7 L1140.4,1047.7 L1139.9,1047.8 L1139.4,1047.9 L1138.9,1047.9 L1138.4,1048.0 L1137.9,1048.0 L1137.4,1048.1 L1136.9,1048.1 L1136.5,1048.2 L1136.0,1048.2 L1135.6,1048.2 L1135.2,1048.2 L1134.8,1048.3 L1134.5,1048.3 L1134.2,1048.3 L1133.8,1048.3 L1133.6,1048.3 L1133.3,1048.3 L1133.2,1048.3" stroke="#e2141e" stroke-width="2.2" fill="none" stroke-linejoin="round"/>
<path d="M1419.1,65.3H1492.2" stroke="#e2141e" stroke-width="6"/>
<path d="M1419.1,116H1492.2" stroke="#2b2e9a" stroke-width="6"/>
<path d="M1419.1,165.5H1492.2" stroke="#17963a" stroke-width="6"/>
<path d="M1416.6,660.3H1489.7" stroke="#e2141e" stroke-width="6"/>
<path d="M1416.6,709.9H1489.7" stroke="#2f4fb0" stroke-width="6"/>
<path d="M1416.6,759.6H1489.7" stroke="#17963a" stroke-width="6"/>
<text transform="translate(15.1,35.0) scale(1.000,1.03)" font-size="41.50" font-family="'Liberation Serif','Times New Roman',serif" font-weight="bold">A</text>
<text transform="translate(15.6,604.0) scale(1.000,1.03)" font-size="41.50" font-family="'Liberation Serif','Times New Roman',serif" font-weight="bold">B</text>
<text transform="translate(819.5,34.6) scale(1.000,1.03)" font-size="41.50" font-family="'Liberation Serif','Times New Roman',serif" font-weight="bold">C</text>
<text transform="translate(819.0,604.0) scale(1.000,1.03)" font-size="41.50" font-family="'Liberation Serif','Times New Roman',serif" font-weight="bold">D</text>
<text transform="translate(61.1,87.0) scale(1.000,1.03)" font-size="34.50" font-family="'Liberation Serif','Times New Roman',serif">10</text>
<text transform="translate(78.1,163.0) scale(1.000,1.03)" font-size="34.50" font-family="'Liberation Serif','Times New Roman',serif">8</text>
<text transform="translate(78.6,238.5) scale(1.000,1.03)" font-size="34.50" font-family="'Liberation Serif','Times New Roman',serif">6</text>
<text transform="translate(77.6,314.2) scale(1.000,1.03)" font-size="34.50" font-family="'Liberation Serif','Times New Roman',serif">4</text>
<text transform="translate(79.6,391.1) scale(1.000,1.03)" font-size="34.50" font-family="'Liberation Serif','Times New Roman',serif">2</text>
<text transform="translate(78.6,465.6) scale(1.000,1.03)" font-size="34.50" font-family="'Liberation Serif','Times New Roman',serif">0</text>
<text transform="translate(100.7,511.1) scale(1.000,1.03)" font-size="34.50" font-family="'Liberation Serif','Times New Roman',serif">0</text>
<text transform="translate(258.6,511.1) scale(1.000,1.03)" font-size="34.50" font-family="'Liberation Serif','Times New Roman',serif">200</text>
<text transform="translate(434.1,511.1) scale(1.000,1.03)" font-size="34.50" font-family="'Liberation Serif','Times New Roman',serif">400</text>
<text transform="translate(609.1,511.1) scale(1.000,1.03)" font-size="34.50" font-family="'Liberation Serif','Times New Roman',serif">600</text>
<text transform="translate(347.5,128.3) scale(1.000,1.03)" font-size="33.39" font-family="'Liberation Serif','Times New Roman',serif">Experimental [33]</text>
<text transform="translate(347.5,166.5) scale(1.000,1.03)" font-size="33.27" font-family="'Liberation Serif','Times New Roman',serif">Calculated</text>
<text transform="translate(248.6,556.5) scale(1.000,1.03)" font-size="33.50" font-family="'Liberation Serif','Times New Roman',serif">SiO</text>
<text transform="translate(301.2,566.5) scale(1.000,1.03)" font-size="23.00" font-family="'Liberation Serif','Times New Roman',serif">2</text>
<text transform="translate(317.3,556.5) scale(1.000,1.03)" font-size="33.50" font-family="'Liberation Serif','Times New Roman',serif">thickness (nm)</text>
<text transform="translate(26.6,358.3) rotate(-90) scale(1,1.03)" font-size="33.66" font-family="'Liberation Serif','Times New Roman',serif">PL int. (a. u.)</text>
<text transform="translate(52.7,748.3) scale(1.000,1.03)" font-size="34.50" font-family="'Liberation Serif','Times New Roman',serif">1.2</text>
<text transform="translate(52.2,852.4) scale(1.000,1.03)" font-size="34.50" font-family="'Liberation Serif','Times New Roman',serif">0.8</text>
<text transform="translate(51.7,959.8) scale(1.000,1.03)" font-size="34.50" font-family="'Liberation Serif','Times New Roman',serif">0.4</text>
<text transform="translate(52.8,1066.2) scale(1.000,1.03)" font-size="34.50" font-family="'Liberation Serif','Times New Roman',serif">0.0</text>
<text transform="translate(98.2,1087.2) scale(1.000,1.03)" font-size="34.50" font-family="'Liberation Serif','Times New Roman',serif">0</text>
<text transform="translate(196.9,1087.2) scale(1.000,1.03)" font-size="34.50" font-family="'Liberation Serif','Times New Roman',serif">20</text>
<text transform="translate(303.6,1087.2) scale(1.000,1.03)" font-size="34.50" font-family="'Liberation Serif','Times New Roman',serif">40</text>
<text transform="translate(407.5,1087.2) scale(1.000,1.03)" font-size="34.50" font-family="'Liberation Serif','Times New Roman',serif">60</text>
<text transform="translate(513.8,1087.2) scale(1.000,1.03)" font-size="34.50" font-family="'Liberation Serif','Times New Roman',serif">80</text>
<text transform="translate(611.1,1087.2) scale(1.000,1.03)" font-size="34.50" font-family="'Liberation Serif','Times New Roman',serif">100</text>
<text transform="translate(248.3,712.5) scale(1.000,1.03)" font-size="33.47" font-family="'Liberation Serif','Times New Roman',serif">Experimental [42]</text>
<text transform="translate(248.3,752.5) scale(1.000,1.03)" font-size="33.27" font-family="'Liberation Serif','Times New Roman',serif">Calculated</text>
<text transform="translate(235.9,1135.3) scale(1.000,1.03)" font-size="33.50" font-family="'Liberation Serif','Times New Roman',serif">Al</text>
<text transform="translate(268.4,1143.9) scale(1.000,1.03)" font-size="23.00" font-family="'Liberation Serif','Times New Roman',serif">2</text>
<text transform="translate(280.4,1135.3) scale(1.000,1.03)" font-size="33.50" font-family="'Liberation Serif','Times New Roman',serif">O</text>
<text transform="translate(303.6,1143.9) scale(1.000,1.03)" font-size="23.00" font-family="'Liberation Serif','Times New Roman',serif">3</text>
<text transform="translate(323.8,1135.3) scale(1.000,1.03)" font-size="33.26" font-family="'Liberation Serif','Times New Roman',serif">thickness (nm)</text>
<text transform="translate(26.6,937.4) rotate(-90) scale(1,1.03)" font-size="32.74" font-family="'Liberation Serif','Times New Roman',serif">PL int. (a. u.)</text>
<text transform="translate(1011.9,79.8) scale(1.000,1.03)" font-size="33.74" font-family="'Liberation Serif','Times New Roman',serif">Emission angle (°)</text>
<text transform="translate(754.4,483.0) scale(1.000,1.03)" font-size="34.50" font-family="'Liberation Serif','Times New Roman',serif">–90</text>
<text transform="translate(761.5,388.4) scale(1.000,1.03)" font-size="34.50" font-family="'Liberation Serif','Times New Roman',serif">–75</text>
<text transform="translate(803.0,305.6) scale(1.000,1.03)" font-size="34.50" font-family="'Liberation Serif','Times New Roman',serif">–60</text>
<text transform="translate(859.6,231.3) scale(1.000,1.03)" font-size="34.50" font-family="'Liberation Serif','Times New Roman',serif">–45</text>
<text transform="translate(934.9,176.2) scale(1.000,1.03)" font-size="34.50" font-family="'Liberation Serif','Times New Roman',serif">–30</text>
<text transform="translate(1021.2,144.1) scale(1.000,1.03)" font-size="34.50" font-family="'Liberation Serif','Times New Roman',serif">–15</text>
<text transform="translate(1119.1,135.7) scale(1.000,1.03)" font-size="34.50" font-family="'Liberation Serif','Times New Roman',serif">0</text>
<text transform="translate(1192.7,144.1) scale(1.000,1.03)" font-size="34.50" font-family="'Liberation Serif','Times New Roman',serif">15</text>
<text transform="translate(1277.7,176.2) scale(1.000,1.03)" font-size="34.50" font-family="'Liberation Serif','Times New Roman',serif">30</text>
<text transform="translate(1352.0,231.3) scale(1.000,1.03)" font-size="34.50" font-family="'Liberation Serif','Times New Roman',serif">45</text>
<text transform="translate(1410.1,304.0) scale(1.000,1.03)" font-size="34.50" font-family="'Liberation Serif','Times New Roman',serif">60</text>
<text transform="translate(1445.6,389.1) scale(1.000,1.03)" font-size="34.50" font-family="'Liberation Serif','Times New Roman',serif">75</text>
<text transform="translate(1459.3,481.5) scale(1.000,1.03)" font-size="34.50" font-family="'Liberation Serif','Times New Roman',serif">90</text>
<text transform="translate(1118.7,506.7) scale(1.000,1.03)" font-size="34.50" font-family="'Liberation Serif','Times New Roman',serif">0</text>
<text transform="translate(1176.4,506.7) scale(1.000,1.03)" font-size="34.50" font-family="'Liberation Serif','Times New Roman',serif">2</text>
<text transform="translate(1239.4,506.7) scale(1.000,1.03)" font-size="34.50" font-family="'Liberation Serif','Times New Roman',serif">4</text>
<text transform="translate(1298.5,506.7) scale(1.000,1.03)" font-size="34.50" font-family="'Liberation Serif','Times New Roman',serif">6</text>
<text transform="translate(1360.8,506.7) scale(1.000,1.03)" font-size="34.50" font-family="'Liberation Serif','Times New Roman',serif">8</text>
<text transform="translate(1413.2,506.7) scale(1.000,1.03)" font-size="34.50" font-family="'Liberation Serif','Times New Roman',serif">10</text>
<text transform="translate(1093.7,569.6) scale(1.000,1.03)" font-size="34.39" font-family="'Liberation Serif','Times New Roman',serif">P (θ)</text>
<text transform="translate(1505.5,77.5) scale(1.000,1.03)" font-size="33.51" font-family="'Liberation Serif','Times New Roman',serif">110 nm SiO</text>
<text transform="translate(1666.1,87.6) scale(1.000,1.03)" font-size="23.00" font-family="'Liberation Serif','Times New Roman',serif">2</text>
<text transform="translate(1505.5,127.3) scale(1.000,1.03)" font-size="33.51" font-family="'Liberation Serif','Times New Roman',serif">200 nm SiO</text>
<text transform="translate(1666.1,137.4) scale(1.000,1.03)" font-size="23.00" font-family="'Liberation Serif','Times New Roman',serif">2</text>
<text transform="translate(1505.5,177.2) scale(1.000,1.03)" font-size="33.51" font-family="'Liberation Serif','Times New Roman',serif">345 nm SiO</text>
<text transform="translate(1666.1,187.3) scale(1.000,1.03)" font-size="23.00" font-family="'Liberation Serif','Times New Roman',serif">2</text>
<text transform="translate(1023.1,665.3) scale(1.000,1.03)" font-size="33.26" font-family="'Liberation Serif','Times New Roman',serif">Emission angle (°)</text>
<text transform="translate(760.2,1061.9) scale(1.000,1.03)" font-size="34.50" font-family="'Liberation Serif','Times New Roman',serif">–90</text>
<text transform="translate(776.5,972.5) scale(1.000,1.03)" font-size="34.50" font-family="'Liberation Serif','Times New Roman',serif">–75</text>
<text transform="translate(811.6,889.5) scale(1.000,1.03)" font-size="34.50" font-family="'Liberation Serif','Times New Roman',serif">–60</text>
<text transform="translate(870.0,819.9) scale(1.000,1.03)" font-size="34.50" font-family="'Liberation Serif','Times New Roman',serif">–45</text>
<text transform="translate(942.8,764.6) scale(1.000,1.03)" font-size="34.50" font-family="'Liberation Serif','Times New Roman',serif">–30</text>
<text transform="translate(1028.3,732.9) scale(1.000,1.03)" font-size="34.50" font-family="'Liberation Serif','Times New Roman',serif">–15</text>
<text transform="translate(1124.0,725.3) scale(1.000,1.03)" font-size="34.50" font-family="'Liberation Serif','Times New Roman',serif">0</text>
<text transform="translate(1197.7,732.9) scale(1.000,1.03)" font-size="34.50" font-family="'Liberation Serif','Times New Roman',serif">15</text>
<text transform="translate(1280.0,764.6) scale(1.000,1.03)" font-size="34.50" font-family="'Liberation Serif','Times New Roman',serif">30</text>
<text transform="translate(1352.1,820.7) scale(1.000,1.03)" font-size="34.50" font-family="'Liberation Serif','Times New Roman',serif">45</text>
<text transform="translate(1409.8,889.4) scale(1.000,1.03)" font-size="34.50" font-family="'Liberation Serif','Times New Roman',serif">60</text>
<text transform="translate(1446.2,971.1) scale(1.000,1.03)" font-size="34.50" font-family="'Liberation Serif','Times New Roman',serif">75</text>
<text transform="translate(1464.6,1061.8) scale(1.000,1.03)" font-size="34.50" font-family="'Liberation Serif','Times New Roman',serif">90</text>
<text transform="translate(1123.5,1088.9) scale(1.000,1.03)" font-size="34.50" font-family="'Liberation Serif','Times New Roman',serif">0</text>
<text transform="translate(1190.3,1088.9) scale(1.000,1.03)" font-size="34.50" font-family="'Liberation Serif','Times New Roman',serif">20</text>
<text transform="translate(1267.8,1088.9) scale(1.000,1.03)" font-size="34.50" font-family="'Liberation Serif','Times New Roman',serif">40</text>
<text transform="translate(1340.9,1088.9) scale(1.000,1.03)" font-size="34.50" font-family="'Liberation Serif','Times New Roman',serif">60</text>
<text transform="translate(1416.7,1088.9) scale(1.000,1.03)" font-size="34.50" font-family="'Liberation Serif','Times New Roman',serif">80</text>
<text transform="translate(1100.5,1153.7) scale(1.000,1.03)" font-size="34.39" font-family="'Liberation Serif','Times New Roman',serif">P (θ)</text>
<text transform="translate(1501.9,671.8) scale(1.000,1.03)" font-size="33.39" font-family="'Liberation Serif','Times New Roman',serif">10 nm Al</text>
<text transform="translate(1625.1,681.6) scale(1.000,1.03)" font-size="23.00" font-family="'Liberation Serif','Times New Roman',serif">2</text>
<text transform="translate(1636.2,671.8) scale(1.000,1.03)" font-size="33.40" font-family="'Liberation Serif','Times New Roman',serif">O</text>
<text transform="translate(1660.5,681.6) scale(1.000,1.03)" font-size="23.00" font-family="'Liberation Serif','Times New Roman',serif">3</text>
<text transform="translate(1501.9,721.3) scale(1.000,1.03)" font-size="33.39" font-family="'Liberation Serif','Times New Roman',serif">30 nm Al</text>
<text transform="translate(1625.1,731.1) scale(1.000,1.03)" font-size="23.00" font-family="'Liberation Serif','Times New Roman',serif">2</text>
<text transform="translate(1636.2,721.3) scale(1.000,1.03)" font-size="33.40" font-family="'Liberation Serif','Times New Roman',serif">O</text>
<text transform="translate(1660.5,731.1) scale(1.000,1.03)" font-size="23.00" font-family="'Liberation Serif','Times New Roman',serif">3</text>
<text transform="translate(1501.9,771.0) scale(1.000,1.03)" font-size="33.39" font-family="'Liberation Serif','Times New Roman',serif">60 nm Al</text>
<text transform="translate(1625.1,780.8) scale(1.000,1.03)" font-size="23.00" font-family="'Liberation Serif','Times New Roman',serif">2</text>
<text transform="translate(1636.2,771.0) scale(1.000,1.03)" font-size="33.40" font-family="'Liberation Serif','Times New Roman',serif">O</text>
<text transform="translate(1660.5,780.8) scale(1.000,1.03)" font-size="23.00" font-family="'Liberation Serif','Times New Roman',serif">3</text></svg>
</body></html>
